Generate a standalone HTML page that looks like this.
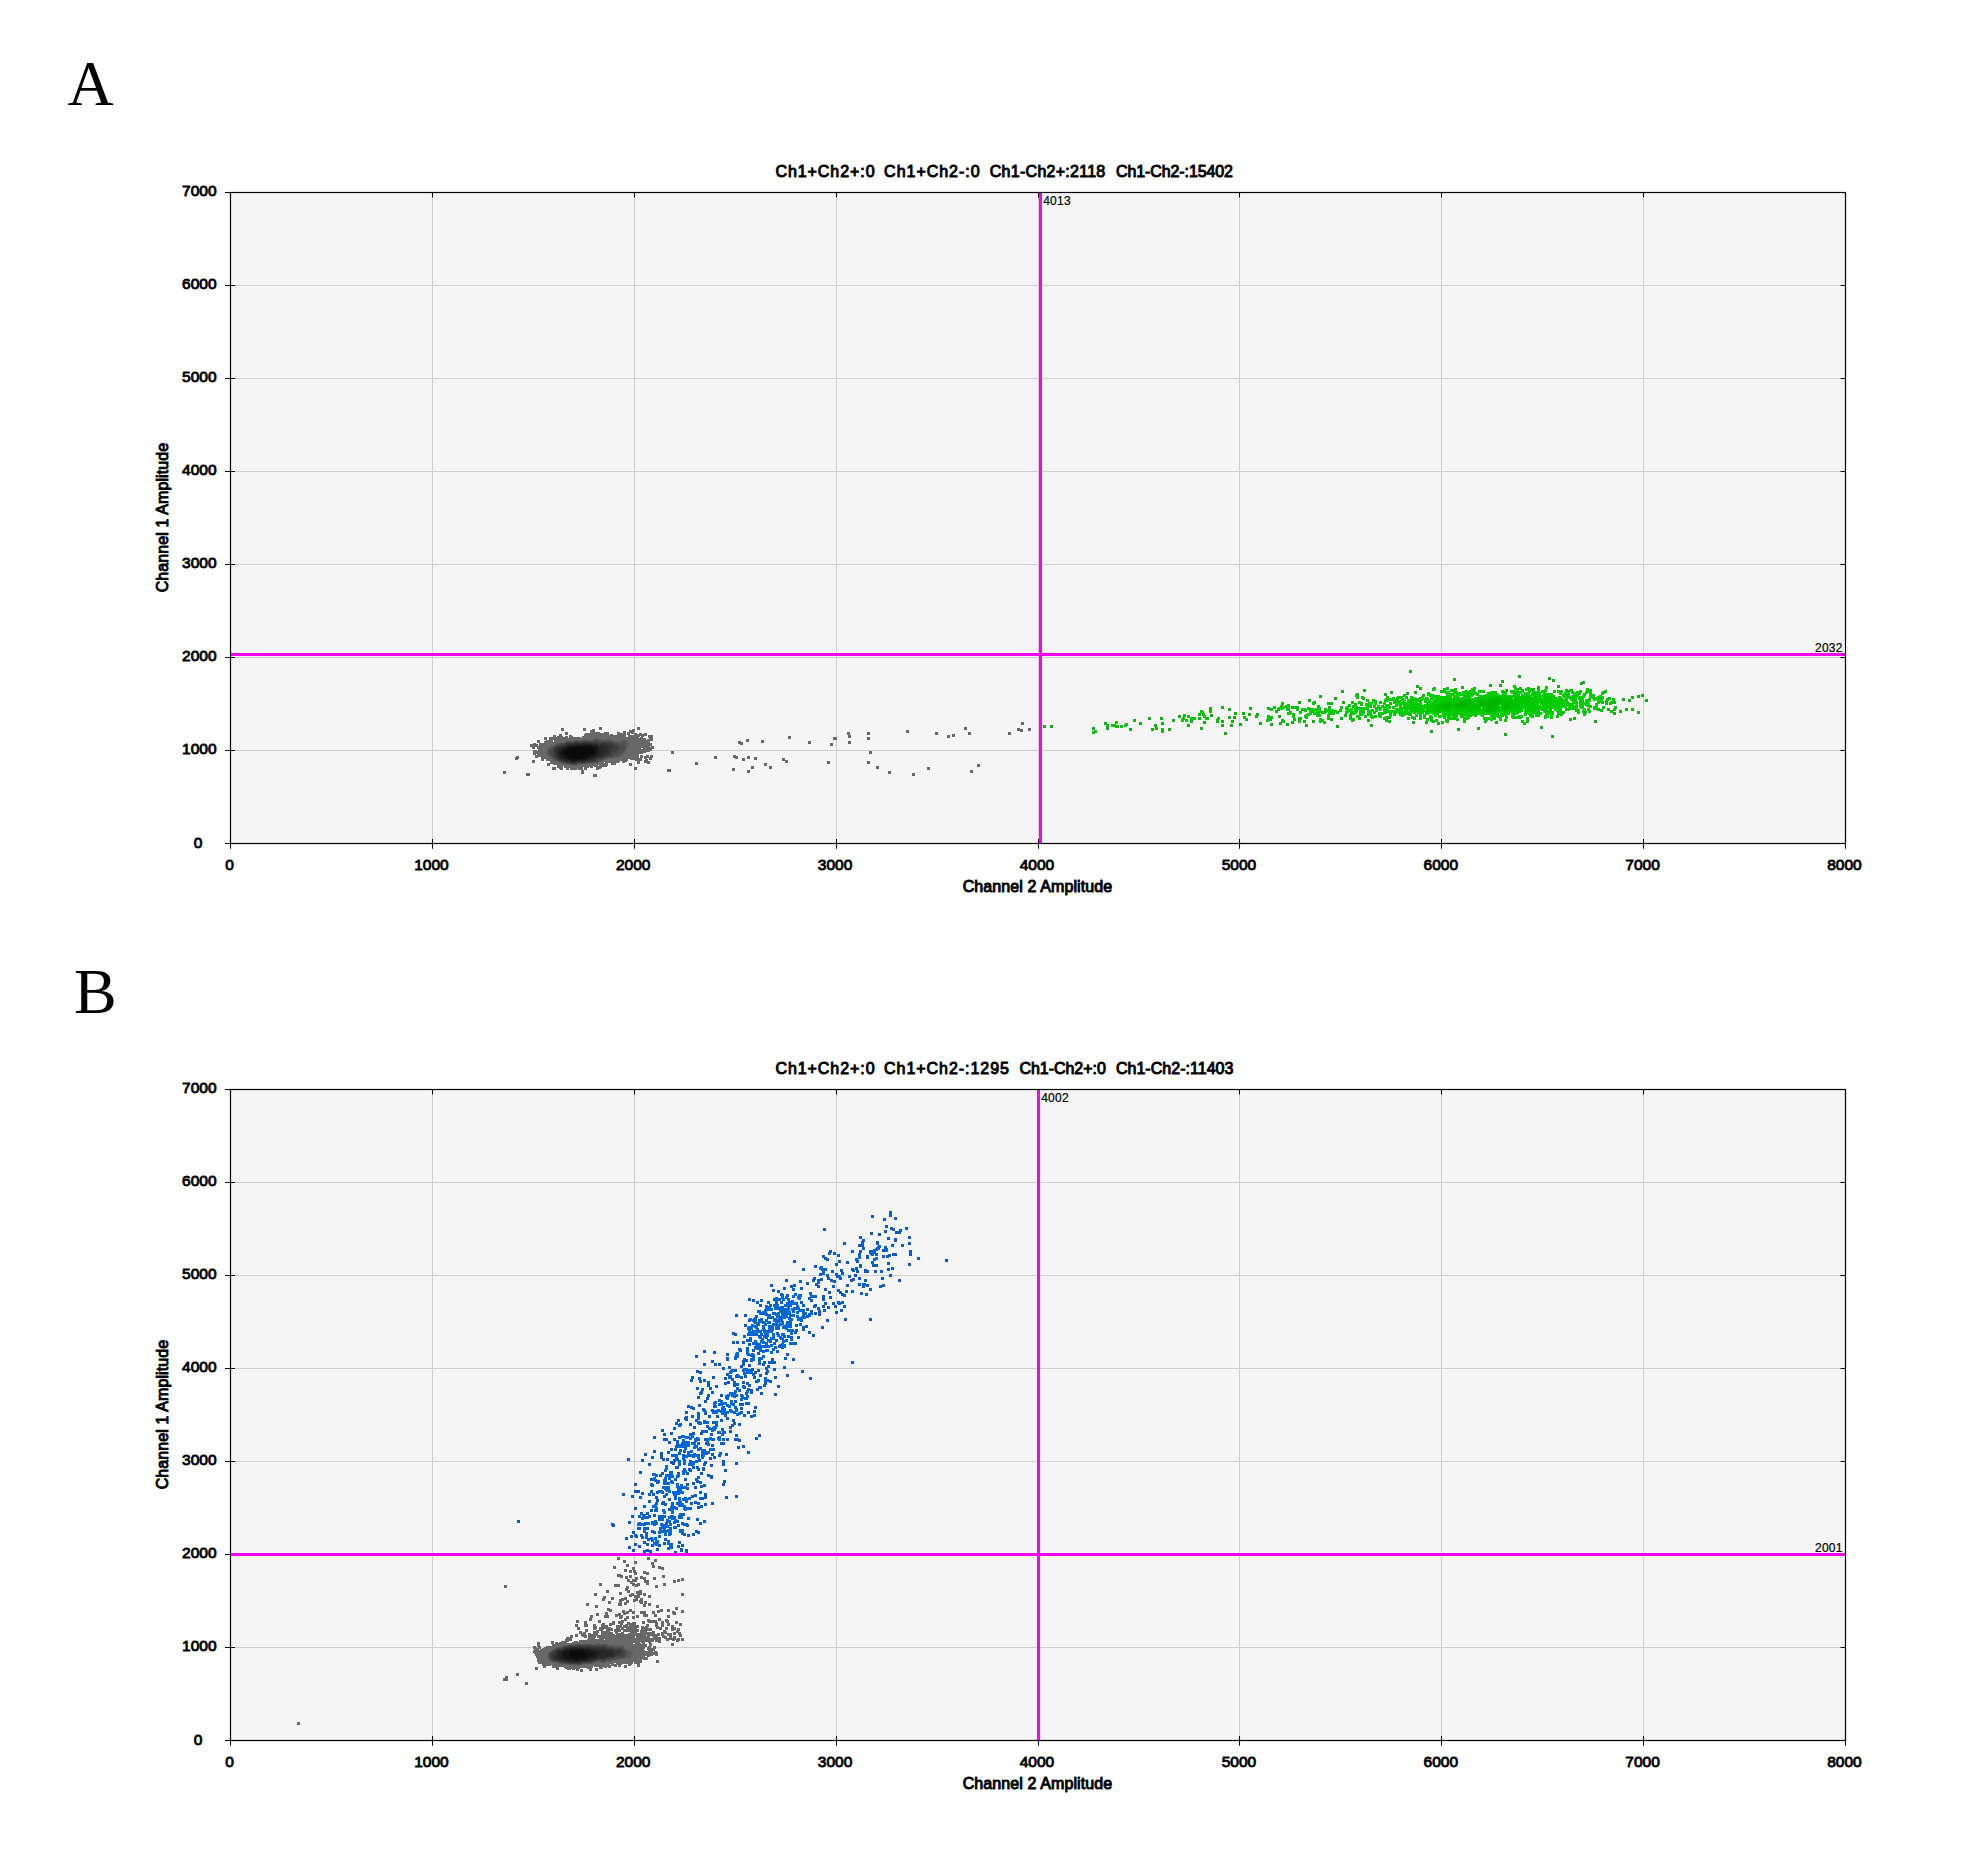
<!DOCTYPE html>
<html lang="en"><head><meta charset="utf-8"><title>Droplet scatter plots</title>
<style>html,body{margin:0;padding:0;background:#fff}body{width:1965px;height:1873px;overflow:hidden}svg{display:block}text{white-space:pre}</style></head><body>
<svg width="1965" height="1873" viewBox="0 0 1965 1873">
<rect width="1965" height="1873" fill="#fff"/>
<text x="67.5" y="105" font-family="'Liberation Serif', 'Times New Roman', serif" font-size="64">A</text>
<text x="74" y="1012.5" font-family="'Liberation Serif', 'Times New Roman', serif" font-size="64">B</text>
<rect x="230.5" y="192.5" width="1615" height="651" fill="#f5f5f5"/>
<path d="M432.5 192.5V843.5M634.5 192.5V843.5M836.5 192.5V843.5M1038.5 192.5V843.5M1239.5 192.5V843.5M1441.5 192.5V843.5M1643.5 192.5V843.5M230.5 750.5H1845.5M230.5 657.5H1845.5M230.5 564.5H1845.5M230.5 471.5H1845.5M230.5 378.5H1845.5M230.5 285.5H1845.5" stroke="#cfcfcf" stroke-width="1" fill="none"/>
<g shape-rendering="crispEdges"><path fill="#686868" d="M1021 722h3v3h-3zM599 727h3v3h-3zM637 727h3v3h-3zM964 727h3v3h-3zM561 728h3v3h-3zM583 728h3v3h-3zM1017 728h3v1h-3zM1028 728h3v3h-3zM592 729h3v1h-3zM632 729h3v1h-3zM1017 729h6v2h-6zM590 730h5v2h-5zM629 730h6v2h-6zM906 730h3v3h-3zM623 731h3v2h-3zM1020 731h3v1h-3zM565 732h3v3h-3zM590 732h10v1h-10zM604 732h5v1h-5zM617 732h3v1h-3zM627 732h7v1h-7zM847 732h3v3h-3zM867 732h3v3h-3zM935 732h3v3h-3zM968 732h3v3h-3zM1008 732h3v3h-3zM585 733h24v1h-24zM617 733h9v2h-9zM627 733h3v2h-3zM631 733h6v1h-6zM639 733h3v1h-3zM644 733h3v1h-3zM559 734h3v2h-3zM584 734h25v1h-25zM610 734h3v1h-3zM634 734h13v1h-13zM952 734h3v3h-3zM553 735h3v2h-3zM569 735h3v1h-3zM584 735h42v1h-42zM628 735h19v1h-19zM648 735h5v3h-5zM848 735h3v3h-3zM947 735h3v3h-3zM557 736h6v1h-6zM565 736h3v1h-3zM569 736h4v1h-4zM582 736h44v1h-44zM628 736h12v1h-12zM641 736h3v1h-3zM788 736h3v3h-3zM544 737h3v3h-3zM549 737h19v1h-19zM569 737h12v1h-12zM582 737h57v1h-57zM640 737h3v1h-3zM833 737h4v3h-4zM867 737h3v3h-3zM549 738h45v1h-45zM597 738h49v1h-49zM649 738h4v1h-4zM549 739h33v1h-33zM586 739h7v1h-7zM603 739h1v1h-1zM611 739h35v1h-35zM647 739h6v1h-6zM746 739h3v3h-3zM537 740h3v3h-3zM546 740h7v1h-7zM554 740h21v1h-21zM615 740h6v1h-6zM627 740h26v1h-26zM761 740h3v3h-3zM544 741h9v1h-9zM554 741h11v1h-11zM617 741h1v1h-1zM628 741h22v2h-22zM738 741h3v1h-3zM808 741h3v3h-3zM848 741h3v3h-3zM544 742h17v1h-17zM738 742h5v2h-5zM533 743h3v1h-3zM539 743h17v1h-17zM629 743h23v3h-23zM830 743h3v3h-3zM530 744h8v2h-8zM539 744h15v1h-15zM740 744h3v1h-3zM539 745h11v1h-11zM530 746h19v1h-19zM629 746h21v1h-21zM651 746h3v1h-3zM532 747h3v2h-3zM537 747h11v2h-11zM629 747h25v1h-25zM628 748h13v1h-13zM643 748h11v1h-11zM538 749h9v2h-9zM627 749h25v2h-25zM533 750h4v1h-4zM533 751h14v3h-14zM626 751h24v1h-24zM671 751h3v3h-3zM869 751h3v3h-3zM626 752h20v1h-20zM624 753h19v1h-19zM533 754h3v1h-3zM537 754h10v1h-10zM623 754h16v1h-16zM535 755h13v1h-13zM622 755h17v1h-17zM640 755h3v3h-3zM646 755h3v1h-3zM650 755h3v2h-3zM733 755h3v1h-3zM516 756h3v1h-3zM535 756h14v1h-14zM621 756h18v1h-18zM644 756h5v1h-5zM714 756h3v3h-3zM733 756h5v2h-5zM747 756h3v3h-3zM515 757h4v2h-4zM535 757h3v1h-3zM541 757h8v1h-8zM619 757h20v1h-20zM644 757h9v1h-9zM754 757h3v3h-3zM541 758h9v1h-9zM613 758h29v1h-29zM644 758h3v1h-3zM649 758h3v2h-3zM735 758h3v1h-3zM742 758h3v3h-3zM782 758h3v2h-3zM515 759h3v1h-3zM541 759h3v2h-3zM546 759h6v1h-6zM607 759h21v1h-21zM630 759h12v1h-12zM645 759h3v1h-3zM532 760h3v3h-3zM546 760h7v1h-7zM604 760h24v1h-24zM635 760h7v1h-7zM644 760h4v1h-4zM782 760h6v1h-6zM550 761h5v1h-5zM602 761h18v1h-18zM622 761h5v1h-5zM637 761h3v3h-3zM644 761h6v2h-6zM785 761h3v2h-3zM827 761h3v3h-3zM867 761h3v3h-3zM550 762h10v1h-10zM598 762h6v1h-6zM605 762h14v1h-14zM622 762h3v1h-3zM695 762h3v3h-3zM547 763h14v1h-14zM594 763h14v1h-14zM611 763h5v2h-5zM629 763h3v3h-3zM647 763h3v1h-3zM764 763h3v3h-3zM547 764h3v2h-3zM553 764h13v1h-13zM583 764h25v1h-25zM977 764h3v3h-3zM557 765h14v1h-14zM577 765h21v1h-21zM599 765h9v1h-9zM557 766h6v2h-6zM564 766h29v1h-29zM594 766h13v1h-13zM751 766h3v3h-3zM769 766h3v3h-3zM876 766h3v3h-3zM552 767h4v3h-4zM564 767h19v1h-19zM584 767h5v1h-5zM590 767h3v1h-3zM596 767h6v1h-6zM634 767h3v3h-3zM927 767h3v3h-3zM559 768h4v1h-4zM566 768h3v2h-3zM570 768h13v1h-13zM584 768h3v2h-3zM596 768h5v1h-5zM732 768h3v3h-3zM560 769h3v1h-3zM570 769h7v1h-7zM578 769h5v1h-5zM596 769h3v1h-3zM667 769h4v3h-4zM581 770h3v4h-3zM747 770h3v3h-3zM970 770h3v3h-3zM503 771h3v3h-3zM888 771h3v3h-3zM526 773h4v3h-4zM912 773h3v3h-3zM593 774h4v3h-4z"/>
<path fill="#616161" d="M594 738h3v1h-3zM582 739h4v1h-4zM600 739h3v1h-3zM604 739h2v1h-2zM610 739h1v1h-1zM579 740h2v1h-2zM614 740h1v1h-1zM621 740h1v1h-1zM625 740h2v1h-2zM565 741h1v1h-1zM615 741h2v1h-2zM618 741h3v1h-3zM627 741h1v1h-1zM561 742h3v1h-3zM556 743h1v1h-1zM628 743h1v3h-1zM554 744h1v1h-1zM550 745h1v1h-1zM549 746h1v1h-1zM627 746h2v2h-2zM548 747h2v1h-2zM627 748h1v1h-1zM547 749h1v1h-1zM626 749h1v2h-1zM625 751h1v1h-1zM624 752h2v1h-2zM623 753h1v1h-1zM547 754h1v1h-1zM622 754h1v1h-1zM621 755h1v1h-1zM620 756h1v1h-1zM549 757h2v1h-2zM614 757h5v1h-5zM550 758h2v1h-2zM608 758h5v1h-5zM552 759h1v1h-1zM606 759h1v1h-1zM553 760h1v1h-1zM555 761h2v1h-2zM601 761h1v1h-1zM561 763h1v1h-1zM592 763h2v1h-2zM566 764h1v1h-1zM582 764h1v1h-1zM571 765h1v1h-1zM576 765h1v1h-1z"/>
<path fill="#5a5a5a" d="M593 739h1v1h-1zM598 739h2v1h-2zM606 739h4v1h-4zM575 740h4v1h-4zM581 740h2v1h-2zM587 740h6v1h-6zM604 740h2v1h-2zM611 740h3v1h-3zM622 740h3v1h-3zM566 741h1v1h-1zM571 741h1v1h-1zM614 741h1v1h-1zM621 741h1v1h-1zM626 741h1v1h-1zM564 742h1v1h-1zM617 742h4v1h-4zM626 742h2v4h-2zM557 743h2v1h-2zM555 744h1v1h-1zM551 745h4v1h-4zM550 746h2v1h-2zM626 746h1v3h-1zM550 747h1v1h-1zM548 748h1v1h-1zM625 749h1v2h-1zM547 750h1v4h-1zM624 751h1v1h-1zM623 752h1v1h-1zM622 753h1v1h-1zM621 754h1v1h-1zM548 755h1v1h-1zM620 755h1v1h-1zM549 756h2v1h-2zM614 756h2v1h-2zM619 756h1v1h-1zM551 757h1v1h-1zM613 757h1v1h-1zM552 758h1v1h-1zM607 758h1v1h-1zM553 759h1v1h-1zM605 759h1v1h-1zM554 760h2v1h-2zM603 760h1v1h-1zM557 761h1v1h-1zM599 761h2v1h-2zM560 762h1v1h-1zM596 762h2v1h-2zM562 763h2v1h-2zM587 763h5v1h-5zM567 764h2v1h-2zM577 764h5v1h-5zM572 765h4v1h-4z"/>
<path fill="#525252" d="M594 739h4v1h-4zM583 740h4v1h-4zM593 740h1v1h-1zM599 740h5v1h-5zM606 740h5v1h-5zM567 741h4v1h-4zM572 741h2v1h-2zM611 741h3v1h-3zM622 741h4v1h-4zM565 742h1v1h-1zM614 742h3v1h-3zM621 742h5v1h-5zM559 743h2v1h-2zM618 743h8v1h-8zM556 744h1v1h-1zM621 744h5v1h-5zM625 745h1v4h-1zM552 746h2v1h-2zM551 747h2v1h-2zM549 748h3v1h-3zM548 749h2v1h-2zM548 750h1v4h-1zM624 750h1v1h-1zM623 751h1v1h-1zM622 752h1v1h-1zM621 753h1v1h-1zM548 754h2v1h-2zM619 754h2v1h-2zM549 755h1v1h-1zM614 755h6v1h-6zM551 756h1v1h-1zM613 756h1v1h-1zM616 756h3v1h-3zM552 757h1v1h-1zM608 757h5v1h-5zM553 758h1v1h-1zM605 758h2v1h-2zM554 759h1v1h-1zM604 759h1v1h-1zM556 760h1v1h-1zM601 760h2v1h-2zM558 761h1v1h-1zM597 761h2v1h-2zM561 762h1v1h-1zM593 762h3v1h-3zM564 763h2v1h-2zM584 763h3v1h-3zM569 764h2v1h-2zM576 764h1v1h-1z"/>
<path fill="#4b4b4b" d="M594 740h5v1h-5zM574 741h9v1h-9zM589 741h5v1h-5zM598 741h13v1h-13zM571 742h2v1h-2zM612 742h2v1h-2zM561 743h4v1h-4zM614 743h4v1h-4zM557 744h3v1h-3zM618 744h3v1h-3zM555 745h2v1h-2zM619 745h6v1h-6zM554 746h1v1h-1zM620 746h5v3h-5zM553 747h1v1h-1zM552 748h1v1h-1zM550 749h2v1h-2zM619 749h6v1h-6zM549 750h2v4h-2zM618 750h6v1h-6zM617 751h6v1h-6zM617 752h5v1h-5zM615 753h6v1h-6zM550 754h1v1h-1zM613 754h6v1h-6zM550 755h2v1h-2zM612 755h2v1h-2zM552 756h1v1h-1zM612 756h1v1h-1zM553 757h1v1h-1zM607 757h1v1h-1zM554 758h1v1h-1zM604 758h1v1h-1zM555 759h1v1h-1zM602 759h2v1h-2zM557 760h1v1h-1zM598 760h3v1h-3zM559 761h1v1h-1zM596 761h1v1h-1zM562 762h1v1h-1zM590 762h3v1h-3zM566 763h1v1h-1zM578 763h6v1h-6zM571 764h5v1h-5z"/>
<path fill="#444444" d="M583 741h6v1h-6zM594 741h4v1h-4zM566 742h5v1h-5zM573 742h2v1h-2zM597 742h5v1h-5zM605 742h7v1h-7zM565 743h1v1h-1zM612 743h2v1h-2zM560 744h2v1h-2zM614 744h4v1h-4zM557 745h2v1h-2zM616 745h3v1h-3zM555 746h2v1h-2zM618 746h2v3h-2zM554 747h1v1h-1zM553 748h1v1h-1zM552 749h1v1h-1zM617 749h2v1h-2zM551 750h2v5h-2zM617 750h1v1h-1zM616 751h1v1h-1zM613 752h4v1h-4zM613 753h2v1h-2zM612 754h1v1h-1zM552 755h1v1h-1zM611 755h1v1h-1zM553 756h1v1h-1zM607 756h5v1h-5zM554 757h1v1h-1zM604 757h3v1h-3zM555 758h1v1h-1zM603 758h1v1h-1zM556 759h1v1h-1zM597 759h5v1h-5zM558 760h1v1h-1zM596 760h2v1h-2zM560 761h1v1h-1zM593 761h3v1h-3zM563 762h2v1h-2zM585 762h5v1h-5zM567 763h4v1h-4zM577 763h1v1h-1z"/>
<path fill="#3d3d3d" d="M575 742h9v1h-9zM590 742h7v1h-7zM602 742h3v1h-3zM566 743h1v1h-1zM571 743h1v1h-1zM598 743h3v1h-3zM607 743h5v1h-5zM562 744h4v1h-4zM610 744h4v1h-4zM559 745h2v1h-2zM612 745h4v1h-4zM557 746h2v1h-2zM613 746h5v3h-5zM555 747h1v1h-1zM554 748h1v1h-1zM553 749h1v7h-1zM612 749h5v1h-5zM611 750h6v1h-6zM611 751h5v1h-5zM611 752h2v2h-2zM610 754h2v1h-2zM607 755h4v1h-4zM554 756h1v1h-1zM605 756h2v1h-2zM555 757h1v1h-1zM603 757h1v1h-1zM556 758h1v1h-1zM598 758h5v1h-5zM557 759h1v1h-1zM596 759h1v1h-1zM559 760h2v1h-2zM595 760h1v1h-1zM561 761h2v1h-2zM587 761h6v1h-6zM565 762h2v1h-2zM578 762h2v1h-2zM583 762h2v1h-2zM571 763h6v1h-6z"/>
<path fill="#353535" d="M584 742h6v1h-6zM567 743h4v1h-4zM572 743h3v1h-3zM593 743h5v1h-5zM601 743h6v1h-6zM566 744h1v1h-1zM598 744h2v1h-2zM605 744h5v1h-5zM561 745h4v1h-4zM608 745h4v1h-4zM559 746h2v1h-2zM610 746h3v3h-3zM556 747h3v1h-3zM555 748h1v1h-1zM554 749h2v1h-2zM610 749h2v1h-2zM554 750h1v3h-1zM609 750h2v3h-2zM554 753h2v3h-2zM608 753h3v1h-3zM607 754h3v1h-3zM605 755h2v1h-2zM555 756h2v1h-2zM603 756h2v1h-2zM556 757h1v1h-1zM599 757h4v1h-4zM557 758h1v1h-1zM596 758h2v1h-2zM558 759h2v1h-2zM595 759h1v1h-1zM561 760h1v1h-1zM591 760h4v1h-4zM563 761h3v1h-3zM585 761h2v1h-2zM567 762h3v1h-3zM577 762h1v1h-1zM580 762h3v1h-3z"/>
<path fill="#2e2e2e" d="M575 743h18v1h-18zM567 744h5v1h-5zM596 744h2v1h-2zM600 744h5v1h-5zM565 745h2v1h-2zM599 745h9v1h-9zM561 746h4v1h-4zM605 746h5v1h-5zM559 747h2v1h-2zM607 747h3v3h-3zM556 748h3v1h-3zM556 749h2v1h-2zM555 750h2v3h-2zM607 750h2v3h-2zM556 753h1v2h-1zM606 753h2v1h-2zM603 754h4v1h-4zM556 755h2v1h-2zM602 755h3v1h-3zM557 756h1v1h-1zM599 756h4v1h-4zM557 757h2v1h-2zM596 757h3v1h-3zM558 758h2v1h-2zM595 758h1v1h-1zM560 759h2v1h-2zM593 759h2v1h-2zM562 760h3v1h-3zM586 760h5v1h-5zM566 761h3v1h-3zM578 761h7v1h-7zM570 762h7v1h-7z"/>
<path fill="#272727" d="M572 744h11v1h-11zM587 744h1v1h-1zM591 744h5v1h-5zM567 745h3v1h-3zM597 745h2v1h-2zM565 746h2v1h-2zM599 746h6v1h-6zM561 747h3v1h-3zM599 747h8v3h-8zM559 748h2v1h-2zM558 749h2v1h-2zM557 750h2v1h-2zM600 750h7v3h-7zM557 751h1v4h-1zM600 753h6v1h-6zM599 754h4v1h-4zM558 755h1v1h-1zM598 755h4v1h-4zM558 756h2v1h-2zM596 756h3v1h-3zM559 757h2v1h-2zM594 757h2v1h-2zM560 758h2v1h-2zM592 758h3v1h-3zM562 759h2v1h-2zM588 759h5v1h-5zM565 760h3v1h-3zM585 760h1v1h-1zM569 761h2v1h-2zM576 761h2v1h-2z"/>
<path fill="#202020" d="M583 744h4v1h-4zM588 744h3v1h-3zM570 745h7v1h-7zM592 745h5v1h-5zM567 746h2v1h-2zM597 746h2v1h-2zM564 747h3v1h-3zM598 747h1v3h-1zM561 748h3v1h-3zM560 749h2v1h-2zM559 750h2v1h-2zM598 750h2v4h-2zM558 751h2v4h-2zM597 754h2v1h-2zM559 755h2v1h-2zM596 755h2v1h-2zM560 756h2v1h-2zM594 756h2v1h-2zM561 757h1v1h-1zM591 757h3v1h-3zM562 758h2v1h-2zM588 758h4v1h-4zM564 759h4v1h-4zM585 759h3v1h-3zM568 760h2v1h-2zM577 760h8v1h-8zM571 761h5v1h-5z"/>
<path fill="#181818" d="M577 745h15v1h-15zM569 746h7v1h-7zM592 746h5v1h-5zM567 747h2v1h-2zM596 747h2v7h-2zM564 748h3v1h-3zM562 749h3v1h-3zM561 750h2v1h-2zM560 751h2v3h-2zM560 754h3v1h-3zM595 754h2v1h-2zM561 755h2v1h-2zM592 755h4v1h-4zM562 756h2v1h-2zM590 756h4v1h-4zM562 757h3v1h-3zM588 757h3v1h-3zM564 758h4v1h-4zM586 758h2v1h-2zM568 759h2v1h-2zM578 759h7v1h-7zM570 760h7v1h-7z"/>
<path fill="#111111" d="M576 746h16v1h-16zM569 747h6v1h-6zM587 747h9v1h-9zM567 748h2v1h-2zM593 748h3v1h-3zM565 749h3v1h-3zM594 749h2v4h-2zM563 750h3v1h-3zM562 751h3v3h-3zM593 753h3v1h-3zM563 754h2v1h-2zM592 754h3v1h-3zM563 755h3v1h-3zM589 755h3v1h-3zM564 756h3v1h-3zM588 756h2v1h-2zM565 757h4v1h-4zM585 757h3v1h-3zM568 758h3v1h-3zM583 758h3v1h-3zM570 759h8v1h-8z"/>
<path fill="#0a0a0a" d="M575 747h12v1h-12zM569 748h24v1h-24zM568 749h26v1h-26zM566 750h28v1h-28zM565 751h29v2h-29zM565 753h28v1h-28zM565 754h27v1h-27zM566 755h23v1h-23zM567 756h21v1h-21zM569 757h16v1h-16zM571 758h12v1h-12z"/>
<path fill="#16ac16" d="M1409 670h3v3h-3zM1518 675h3v3h-3zM1548 677h3v3h-3zM1453 678h3v3h-3zM1552 679h3v3h-3zM1501 680h3v3h-3zM1582 681h3v1h-3zM1580 682h5v2h-5zM1489 684h3v3h-3zM1499 684h3v3h-3zM1580 684h3v1h-3zM1416 685h3v2h-3zM1557 685h3v3h-3zM1461 686h3v3h-3zM1416 687h6v1h-6zM1419 688h3v2h-3zM1363 689h3v3h-3zM1341 690h3v3h-3zM1390 691h3v3h-3zM1414 691h3v3h-3zM1406 692h3v3h-3zM1384 693h3v3h-3zM1641 694h3v3h-3zM1319 695h3v3h-3zM1637 695h3v3h-3zM1631 696h3v3h-3zM1334 697h3v3h-3zM1622 698h3v3h-3zM1308 699h3v3h-3zM1628 699h3v3h-3zM1645 699h3v3h-3zM1298 701h3v3h-3zM1342 701h3v3h-3zM1221 706h3v3h-3zM1209 707h3v3h-3zM1249 707h3v3h-3zM1267 707h3v3h-3zM1228 708h3v3h-3zM1607 708h3v3h-3zM1625 708h3v3h-3zM1631 708h3v3h-3zM1619 710h3v3h-3zM1637 711h3v3h-3zM1234 712h3v3h-3zM1242 712h3v3h-3zM1613 712h3v3h-3zM1248 713h3v3h-3zM1256 713h3v2h-3zM1210 714h3v3h-3zM1178 715h3v3h-3zM1255 715h4v1h-4zM1278 715h3v3h-3zM1228 716h3v3h-3zM1233 716h3v3h-3zM1255 716h3v2h-3zM1148 717h3v3h-3zM1160 717h3v3h-3zM1198 717h3v3h-3zM1340 717h3v3h-3zM1573 717h3v3h-3zM1246 718h2v1h-2zM1330 718h3v3h-3zM1569 718h3v3h-3zM1133 719h3v3h-3zM1172 719h3v3h-3zM1245 719h3v2h-3zM1367 719h3v3h-3zM1221 720h3v3h-3zM1231 720h3v3h-3zM1312 720h3v3h-3zM1594 720h3v3h-3zM1203 721h3v3h-3zM1291 721h3v3h-3zM1412 721h3v3h-3zM1495 721h3v3h-3zM1104 722h3v2h-3zM1139 722h3v3h-3zM1161 722h3v3h-3zM1259 722h3v3h-3zM1279 722h3v3h-3zM1437 722h3v3h-3zM1239 723h3v3h-3zM1270 723h3v3h-3zM1286 723h3v3h-3zM1104 724h2v1h-2zM1154 724h3v3h-3zM1187 724h3v3h-3zM1221 724h3v3h-3zM1230 724h3v3h-3zM1305 724h3v3h-3zM1370 724h3v3h-3zM1043 725h3v3h-3zM1050 725h3v3h-3zM1336 725h3v3h-3zM1540 726h3v3h-3zM1092 727h3v3h-3zM1106 727h3v3h-3zM1200 727h3v3h-3zM1477 727h3v3h-3zM1129 728h3v3h-3zM1151 728h3v3h-3zM1168 728h3v3h-3zM1457 728h3v3h-3zM1430 730h3v3h-3zM1224 732h3v3h-3zM1504 733h3v3h-3zM1551 735h3v3h-3z"/>
<path fill="#08c008" d="M1513 685h3v2h-3zM1537 686h3v3h-3zM1545 686h3v3h-3zM1433 687h3v1h-3zM1446 687h3v3h-3zM1513 687h1v1h-1zM1519 687h3v2h-3zM1527 687h3v1h-3zM1432 688h4v2h-4zM1454 688h3v3h-3zM1528 688h1v2h-1zM1532 688h3v3h-3zM1586 688h3v1h-3zM1505 689h3v2h-3zM1519 689h2v1h-2zM1565 689h3v1h-3zM1572 689h1v2h-1zM1586 689h6v1h-6zM1432 690h3v1h-3zM1440 690h3v3h-3zM1483 690h2v3h-2zM1553 690h3v3h-3zM1557 690h3v1h-3zM1565 690h2v2h-2zM1579 690h3v2h-3zM1589 690h3v1h-3zM1604 690h3v1h-3zM1506 691h2v1h-2zM1557 691h2v2h-2zM1602 691h5v1h-5zM1581 692h1v1h-1zM1601 692h6v1h-6zM1356 693h3v1h-3zM1583 693h2v1h-2zM1601 693h4v1h-4zM1355 694h4v3h-4zM1403 694h3v2h-3zM1422 694h3v2h-3zM1583 694h3v1h-3zM1601 694h3v1h-3zM1585 695h1v1h-1zM1361 696h3v1h-3zM1386 696h3v2h-3zM1397 696h3v1h-3zM1403 696h5v1h-5zM1424 696h1v1h-1zM1356 697h3v2h-3zM1361 697h4v2h-4zM1392 697h3v1h-3zM1399 697h1v2h-1zM1405 697h3v2h-3zM1608 697h3v1h-3zM1388 698h1v1h-1zM1606 698h5v2h-5zM1612 698h3v3h-3zM1362 699h3v1h-3zM1366 699h3v3h-3zM1372 699h3v1h-3zM1372 700h5v2h-5zM1605 700h4v1h-4zM1313 701h3v1h-3zM1351 701h3v2h-3zM1358 701h3v1h-3zM1379 701h3v3h-3zM1603 701h1v2h-1zM1605 701h3v4h-3zM1610 701h6v1h-6zM1281 702h3v3h-3zM1312 702h4v2h-4zM1327 702h6v3h-6zM1358 702h5v2h-5zM1609 702h7v2h-7zM1351 703h6v1h-6zM1601 703h3v1h-3zM1287 704h3v1h-3zM1312 704h3v1h-3zM1348 704h3v2h-3zM1354 704h3v1h-3zM1360 704h3v2h-3zM1609 704h3v1h-3zM1280 705h3v1h-3zM1288 705h2v1h-2zM1317 705h3v2h-3zM1356 705h1v1h-1zM1590 705h2v1h-2zM1273 706h3v2h-3zM1280 706h2v1h-2zM1291 706h8v3h-8zM1328 706h3v2h-3zM1340 706h3v3h-3zM1349 706h2v1h-2zM1589 706h3v2h-3zM1602 706h3v3h-3zM1614 706h3v2h-3zM1278 707h2v1h-2zM1307 707h3v2h-3zM1317 707h1v1h-1zM1270 708h6v1h-6zM1277 708h3v2h-3zM1301 708h5v1h-5zM1324 708h3v2h-3zM1587 708h3v2h-3zM1598 708h2v1h-2zM1613 708h4v1h-4zM1270 709h3v2h-3zM1296 709h3v2h-3zM1301 709h9v1h-9zM1339 709h3v2h-3zM1598 709h5v1h-5zM1613 709h3v1h-3zM1200 710h3v1h-3zM1209 710h3v3h-3zM1275 710h5v1h-5zM1301 710h6v1h-6zM1587 710h4v1h-4zM1597 710h6v1h-6zM1610 710h6v1h-6zM1200 711h4v2h-4zM1275 711h3v2h-3zM1289 711h3v1h-3zM1299 711h3v3h-3zM1304 711h3v1h-3zM1337 711h5v1h-5zM1345 711h1v2h-1zM1562 711h3v2h-3zM1585 711h2v2h-2zM1588 711h3v2h-3zM1600 711h3v1h-3zM1610 711h3v2h-3zM1287 712h5v1h-5zM1337 712h2v1h-2zM1557 712h2v1h-2zM1198 713h7v1h-7zM1287 713h8v1h-8zM1336 713h3v1h-3zM1345 713h3v1h-3zM1557 713h8v1h-8zM1577 713h3v1h-3zM1583 713h4v1h-4zM1183 714h3v3h-3zM1198 714h3v2h-3zM1202 714h3v1h-3zM1287 714h4v1h-4zM1292 714h3v4h-3zM1327 714h1v1h-1zM1344 714h3v3h-3zM1349 714h3v4h-3zM1557 714h6v1h-6zM1583 714h3v2h-3zM1187 715h3v2h-3zM1202 715h4v1h-4zM1267 715h3v1h-3zM1327 715h3v5h-3zM1364 715h3v3h-3zM1370 715h3v1h-3zM1374 715h3v1h-3zM1556 715h3v3h-3zM1560 715h3v1h-3zM1203 716h3v1h-3zM1243 716h3v3h-3zM1267 716h6v3h-6zM1370 716h7v2h-7zM1385 716h4v1h-4zM1411 716h3v1h-3zM1419 716h3v4h-3zM1182 717h3v2h-3zM1187 717h9v1h-9zM1203 717h6v1h-6zM1217 717h3v2h-3zM1298 717h4v3h-4zM1360 717h1v1h-1zM1383 717h8v2h-8zM1407 717h3v3h-3zM1411 717h5v2h-5zM1423 717h3v1h-3zM1526 717h3v5h-3zM1190 718h6v2h-6zM1205 718h4v2h-4zM1293 718h3v3h-3zM1349 718h6v2h-6zM1358 718h3v2h-3zM1371 718h3v1h-3zM1423 718h6v1h-6zM1456 718h3v3h-3zM1499 718h3v3h-3zM1544 718h3v1h-3zM1181 719h7v1h-7zM1216 719h4v1h-4zM1266 719h6v2h-6zM1281 719h3v1h-3zM1322 719h2v2h-2zM1383 719h5v1h-5zM1413 719h3v1h-3zM1426 719h3v2h-3zM1430 719h3v1h-3zM1435 719h3v1h-3zM1445 719h2v1h-2zM1504 719h3v3h-3zM1181 720h3v2h-3zM1185 720h3v2h-3zM1190 720h3v3h-3zM1216 720h3v3h-3zM1281 720h4v2h-4zM1298 720h3v3h-3zM1303 720h3v3h-3zM1351 720h4v1h-4zM1385 720h6v2h-6zM1430 720h8v2h-8zM1445 720h4v2h-4zM1463 720h3v3h-3zM1484 720h1v1h-1zM1521 720h3v2h-3zM1115 721h3v3h-3zM1266 721h3v1h-3zM1322 721h4v1h-4zM1351 721h3v1h-3zM1425 721h3v3h-3zM1441 721h3v3h-3zM1484 721h3v2h-3zM1282 722h3v1h-3zM1319 722h3v1h-3zM1323 722h3v2h-3zM1388 722h3v1h-3zM1432 722h3v1h-3zM1446 722h3v1h-3zM1521 722h8v1h-8zM1125 723h3v1h-3zM1523 723h3v2h-3zM1106 724h3v3h-3zM1111 724h5v1h-5zM1124 724h4v2h-4zM1111 725h8v2h-8zM1120 725h3v3h-3zM1124 726h3v1h-3zM1115 727h4v1h-4zM1155 727h3v3h-3zM1161 728h3v5h-3zM1094 730h3v1h-3zM1092 731h5v2h-5zM1092 733h3v1h-3z"/>
<path fill="#00cb00" d="M1473 687h3v1h-3zM1514 687h3v1h-3zM1443 688h3v3h-3zM1471 688h5v2h-5zM1514 688h5v2h-5zM1525 688h3v2h-3zM1529 688h3v2h-3zM1450 689h4v2h-4zM1521 689h3v2h-3zM1537 689h3v2h-3zM1544 689h3v1h-3zM1569 689h3v1h-3zM1465 690h3v1h-3zM1469 690h6v1h-6zM1478 690h5v3h-5zM1501 690h3v1h-3zM1510 690h5v1h-5zM1516 690h3v1h-3zM1525 690h7v1h-7zM1541 690h6v2h-6zM1560 690h3v1h-3zM1567 690h5v1h-5zM1586 690h3v1h-3zM1443 691h15v1h-15zM1462 691h14v1h-14zM1490 691h7v1h-7zM1501 691h5v1h-5zM1510 691h14v1h-14zM1528 691h3v1h-3zM1532 691h8v1h-8zM1559 691h4v2h-4zM1567 691h7v1h-7zM1576 691h3v1h-3zM1585 691h7v2h-7zM1427 692h3v1h-3zM1443 692h7v1h-7zM1453 692h8v1h-8zM1462 692h15v1h-15zM1487 692h10v1h-10zM1501 692h6v1h-6zM1510 692h21v1h-21zM1532 692h14v1h-14zM1564 692h6v1h-6zM1571 692h10v2h-10zM1427 693h4v1h-4zM1445 693h34v1h-34zM1487 693h11v1h-11zM1502 693h5v2h-5zM1511 693h11v1h-11zM1524 693h6v1h-6zM1531 693h10v2h-10zM1543 693h10v1h-10zM1559 693h3v1h-3zM1563 693h7v1h-7zM1585 693h3v1h-3zM1589 693h3v1h-3zM1427 694h7v1h-7zM1446 694h9v1h-9zM1456 694h23v1h-23zM1485 694h15v1h-15zM1513 694h7v1h-7zM1521 694h9v1h-9zM1542 694h11v1h-11zM1559 694h11v1h-11zM1573 694h8v1h-8zM1589 694h6v3h-6zM1427 695h13v1h-13zM1446 695h28v1h-28zM1476 695h44v1h-44zM1521 695h34v1h-34zM1562 695h8v1h-8zM1571 695h8v1h-8zM1582 695h3v1h-3zM1599 695h3v1h-3zM1400 696h3v2h-3zM1410 696h3v1h-3zM1421 696h3v1h-3zM1429 696h23v1h-23zM1453 696h7v1h-7zM1463 696h10v1h-10zM1478 696h16v1h-16zM1497 696h35v1h-35zM1533 696h22v1h-22zM1558 696h3v1h-3zM1562 696h23v1h-23zM1597 696h7v1h-7zM1396 697h3v2h-3zM1410 697h5v1h-5zM1419 697h5v1h-5zM1425 697h3v1h-3zM1430 697h22v1h-22zM1453 697h6v1h-6zM1460 697h11v1h-11zM1474 697h6v1h-6zM1483 697h9v1h-9zM1501 697h41v1h-41zM1543 697h14v1h-14zM1558 697h4v1h-4zM1563 697h14v1h-14zM1578 697h7v1h-7zM1589 697h15v1h-15zM1385 698h3v1h-3zM1389 698h6v1h-6zM1400 698h4v1h-4zM1410 698h19v1h-19zM1430 698h4v1h-4zM1435 698h45v1h-45zM1485 698h4v1h-4zM1505 698h8v1h-8zM1514 698h1v1h-1zM1518 698h45v1h-45zM1565 698h12v1h-12zM1578 698h6v2h-6zM1588 698h3v1h-3zM1592 698h12v1h-12zM1384 699h15v1h-15zM1401 699h4v1h-4zM1407 699h16v2h-16zM1424 699h5v1h-5zM1430 699h31v1h-31zM1472 699h5v1h-5zM1510 699h4v1h-4zM1519 699h49v2h-49zM1570 699h7v2h-7zM1585 699h6v3h-6zM1593 699h10v1h-10zM1384 700h22v1h-22zM1424 700h7v1h-7zM1433 700h24v1h-24zM1475 700h2v2h-2zM1579 700h5v2h-5zM1593 700h3v1h-3zM1597 700h6v3h-6zM1384 701h5v1h-5zM1393 701h8v1h-8zM1402 701h4v1h-4zM1407 701h15v1h-15zM1424 701h3v1h-3zM1428 701h18v1h-18zM1455 701h1v1h-1zM1519 701h50v1h-50zM1572 701h6v2h-6zM1368 702h5v1h-5zM1374 702h3v3h-3zM1383 702h3v2h-3zM1389 702h3v2h-3zM1393 702h25v1h-25zM1419 702h3v1h-3zM1424 702h19v1h-19zM1476 702h1v2h-1zM1519 702h51v1h-51zM1579 702h10v1h-10zM1365 703h8v2h-8zM1393 703h29v1h-29zM1426 703h14v1h-14zM1519 703h20v2h-20zM1540 703h38v1h-38zM1579 703h11v2h-11zM1595 703h5v1h-5zM1383 704h9v1h-9zM1395 704h27v1h-27zM1424 704h12v1h-12zM1501 704h1v2h-1zM1540 704h34v1h-34zM1575 704h3v1h-3zM1595 704h3v2h-3zM1285 705h3v1h-3zM1352 705h4v1h-4zM1365 705h7v1h-7zM1373 705h3v2h-3zM1377 705h3v2h-3zM1381 705h3v1h-3zM1385 705h5v1h-5zM1395 705h3v1h-3zM1399 705h3v2h-3zM1403 705h32v2h-32zM1519 705h22v1h-22zM1542 705h36v1h-36zM1579 705h5v3h-5zM1585 705h5v1h-5zM1282 706h8v1h-8zM1346 706h3v1h-3zM1352 706h6v1h-6zM1366 706h6v1h-6zM1381 706h10v1h-10zM1392 706h6v1h-6zM1453 706h2v1h-2zM1498 706h4v2h-4zM1519 706h59v1h-59zM1586 706h3v1h-3zM1593 706h5v4h-5zM1280 707h10v1h-10zM1318 707h3v1h-3zM1345 707h4v2h-4zM1352 707h20v1h-20zM1373 707h18v1h-18zM1392 707h3v1h-3zM1399 707h36v1h-36zM1451 707h4v1h-4zM1480 707h1v1h-1zM1519 707h48v1h-48zM1568 707h10v1h-10zM1280 708h5v1h-5zM1286 708h4v3h-4zM1310 708h4v1h-4zM1315 708h6v1h-6zM1328 708h3v1h-3zM1350 708h3v1h-3zM1354 708h15v2h-15zM1375 708h7v2h-7zM1383 708h8v1h-8zM1392 708h45v1h-45zM1451 708h6v2h-6zM1479 708h6v1h-6zM1497 708h6v1h-6zM1510 708h3v1h-3zM1518 708h44v1h-44zM1565 708h13v1h-13zM1580 708h6v1h-6zM1280 709h3v1h-3zM1310 709h11v1h-11zM1327 709h7v1h-7zM1345 709h8v1h-8zM1371 709h3v1h-3zM1383 709h6v1h-6zM1395 709h30v1h-30zM1426 709h11v1h-11zM1461 709h5v1h-5zM1478 709h7v1h-7zM1497 709h7v1h-7zM1510 709h13v1h-13zM1524 709h24v1h-24zM1549 709h3v1h-3zM1554 709h8v2h-8zM1565 709h15v1h-15zM1583 709h3v1h-3zM1309 710h12v1h-12zM1324 710h13v1h-13zM1346 710h7v1h-7zM1354 710h4v1h-4zM1359 710h6v4h-6zM1367 710h7v1h-7zM1375 710h3v1h-3zM1379 710h3v1h-3zM1383 710h20v1h-20zM1404 710h4v1h-4zM1409 710h28v1h-28zM1440 710h4v1h-4zM1448 710h21v1h-21zM1472 710h13v1h-13zM1497 710h26v1h-26zM1524 710h16v2h-16zM1541 710h11v1h-11zM1565 710h5v1h-5zM1575 710h5v2h-5zM1582 710h4v1h-4zM1309 711h6v1h-6zM1316 711h21v1h-21zM1346 711h12v1h-12zM1367 711h11v1h-11zM1383 711h102v1h-102zM1495 711h28v1h-28zM1543 711h11v2h-11zM1556 711h6v1h-6zM1582 711h3v2h-3zM1309 712h18v1h-18zM1328 712h9v1h-9zM1346 712h3v1h-3zM1350 712h7v2h-7zM1367 712h5v3h-5zM1373 712h3v2h-3zM1378 712h46v1h-46zM1425 712h62v1h-62zM1494 712h27v1h-27zM1524 712h18v2h-18zM1559 712h3v1h-3zM1577 712h3v1h-3zM1307 713h5v1h-5zM1313 713h7v1h-7zM1321 713h5v1h-5zM1328 713h7v2h-7zM1378 713h9v1h-9zM1389 713h3v4h-3zM1393 713h4v1h-4zM1398 713h14v1h-14zM1413 713h3v1h-3zM1417 713h7v1h-7zM1425 713h14v1h-14zM1442 713h57v2h-57zM1500 713h10v2h-10zM1511 713h8v1h-8zM1545 713h9v2h-9zM1305 714h7v1h-7zM1313 714h8v1h-8zM1352 714h3v1h-3zM1359 714h5v1h-5zM1378 714h6v1h-6zM1393 714h3v2h-3zM1399 714h13v1h-13zM1415 714h3v3h-3zM1419 714h3v2h-3zM1423 714h6v1h-6zM1432 714h7v1h-7zM1511 714h7v1h-7zM1524 714h3v2h-3zM1528 714h6v1h-6zM1535 714h7v1h-7zM1304 715h6v1h-6zM1316 715h5v2h-5zM1356 715h7v1h-7zM1367 715h3v1h-3zM1378 715h4v2h-4zM1399 715h6v1h-6zM1408 715h4v1h-4zM1423 715h3v2h-3zM1429 715h3v1h-3zM1434 715h3v2h-3zM1438 715h20v1h-20zM1460 715h17v1h-17zM1480 715h4v1h-4zM1490 715h17v1h-17zM1511 715h4v1h-4zM1518 715h5v1h-5zM1529 715h5v2h-5zM1535 715h5v2h-5zM1544 715h5v3h-5zM1550 715h3v4h-3zM1304 716h4v2h-4zM1356 716h4v2h-4zM1401 716h3v1h-3zM1429 716h4v3h-4zM1438 716h13v1h-13zM1452 716h6v1h-6zM1460 716h5v1h-5zM1466 716h6v1h-6zM1474 716h3v1h-3zM1481 716h3v1h-3zM1490 716h14v1h-14zM1505 716h3v3h-3zM1511 716h12v2h-12zM1379 717h3v1h-3zM1438 717h4v1h-4zM1443 717h3v2h-3zM1447 717h10v1h-10zM1460 717h10v1h-10zM1483 717h7v1h-7zM1491 717h5v1h-5zM1497 717h5v1h-5zM1531 717h3v1h-3zM1305 718h3v1h-3zM1319 718h3v4h-3zM1447 718h9v2h-9zM1463 718h7v1h-7zM1483 718h13v2h-13zM1512 718h10v1h-10zM1463 719h5v1h-5zM1485 720h3v1h-3zM1490 720h3v1h-3z"/>
<path fill="#00c100" d="M1494 696h3v1h-3zM1480 697h3v1h-3zM1492 697h9v1h-9zM1480 698h5v1h-5zM1489 698h4v1h-4zM1498 698h7v1h-7zM1515 698h3v1h-3zM1461 699h11v1h-11zM1477 699h3v1h-3zM1484 699h5v1h-5zM1499 699h11v1h-11zM1514 699h5v1h-5zM1457 700h5v1h-5zM1469 700h6v2h-6zM1477 700h1v3h-1zM1486 700h2v1h-2zM1499 700h20v2h-20zM1446 701h9v1h-9zM1456 701h5v1h-5zM1487 701h1v2h-1zM1443 702h15v1h-15zM1469 702h7v2h-7zM1499 702h7v2h-7zM1509 702h10v6h-10zM1440 703h5v1h-5zM1450 703h7v3h-7zM1477 703h2v1h-2zM1436 704h8v1h-8zM1469 704h10v1h-10zM1486 704h1v1h-1zM1499 704h2v1h-2zM1502 704h4v1h-4zM1435 705h7v3h-7zM1468 705h11v1h-11zM1485 705h2v1h-2zM1498 705h2v1h-2zM1502 705h2v3h-2zM1450 706h3v1h-3zM1455 706h2v1h-2zM1465 706h23v1h-23zM1450 707h1v2h-1zM1455 707h3v1h-3zM1462 707h18v1h-18zM1482 707h5v1h-5zM1497 707h1v1h-1zM1437 708h7v1h-7zM1457 708h22v1h-22zM1485 708h2v3h-2zM1503 708h1v1h-1zM1508 708h2v1h-2zM1513 708h5v1h-5zM1437 709h14v1h-14zM1457 709h4v1h-4zM1466 709h12v1h-12zM1496 709h1v1h-1zM1504 709h6v1h-6zM1437 710h3v1h-3zM1444 710h4v1h-4zM1469 710h3v1h-3zM1493 710h4v1h-4zM1485 711h4v1h-4zM1492 711h3v1h-3zM1487 712h7v1h-7z"/>
<path fill="#00b400" d="M1493 698h5v1h-5zM1480 699h4v1h-4zM1489 699h10v1h-10zM1462 700h7v1h-7zM1478 700h8v1h-8zM1488 700h11v3h-11zM1461 701h8v1h-8zM1478 701h9v2h-9zM1458 702h11v1h-11zM1506 702h3v3h-3zM1445 703h5v1h-5zM1457 703h12v2h-12zM1479 703h20v1h-20zM1444 704h6v1h-6zM1479 704h7v1h-7zM1487 704h12v1h-12zM1442 705h8v3h-8zM1457 705h11v1h-11zM1479 705h6v1h-6zM1487 705h11v1h-11zM1504 705h5v3h-5zM1457 706h8v1h-8zM1488 706h10v1h-10zM1458 707h4v1h-4zM1487 707h10v2h-10zM1444 708h6v1h-6zM1504 708h4v1h-4zM1487 709h9v1h-9zM1487 710h6v1h-6zM1489 711h3v1h-3z"/></g>
<path d="M230.5 839V848.8M230.5 192.5V197.5M432.5 839V848.8M432.5 192.5V197.5M634.5 839V848.8M634.5 192.5V197.5M836.5 839V848.8M836.5 192.5V197.5M1038.5 839V848.8M1038.5 192.5V197.5M1239.5 839V848.8M1239.5 192.5V197.5M1441.5 839V848.8M1441.5 192.5V197.5M1643.5 839V848.8M1643.5 192.5V197.5M1845.5 839V848.8M1845.5 192.5V197.5M225 843.5H235M1840.5 843.5H1845.5M225 750.5H235M1840.5 750.5H1845.5M225 657.5H235M1840.5 657.5H1845.5M225 564.5H235M1840.5 564.5H1845.5M225 471.5H235M1840.5 471.5H1845.5M225 378.5H235M1840.5 378.5H1845.5M225 285.5H235M1840.5 285.5H1845.5M225 192.5H235M1840.5 192.5H1845.5" stroke="#000" stroke-width="1.05" fill="none"/>
<path d="M1040.5 192.5V843.5 M230.5 654.5H1845.5" stroke="#fa00f2" stroke-width="3" fill="none"/>
<rect x="230.5" y="192.5" width="1615" height="651" fill="none" stroke="#000" stroke-width="1.2"/>
<g font-family="'Liberation Sans', Arial, sans-serif" font-size="15.5" fill="#000" stroke="#000" stroke-width="0.85" stroke-linejoin="round">
<text x="229.5" y="869.8" text-anchor="middle">0</text>
<text x="431.4" y="869.8" text-anchor="middle">1000</text>
<text x="633.2" y="869.8" text-anchor="middle">2000</text>
<text x="835.1" y="869.8" text-anchor="middle">3000</text>
<text x="1037" y="869.8" text-anchor="middle">4000</text>
<text x="1238.9" y="869.8" text-anchor="middle">5000</text>
<text x="1440.8" y="869.8" text-anchor="middle">6000</text>
<text x="1642.6" y="869.8" text-anchor="middle">7000</text>
<text x="1844.5" y="869.8" text-anchor="middle">8000</text>
<text x="198" y="847.5" text-anchor="middle">0</text>
<text x="216.6" y="754.1" text-anchor="end">1000</text>
<text x="216.6" y="661.1" text-anchor="end">2000</text>
<text x="216.6" y="568.1" text-anchor="end">3000</text>
<text x="216.6" y="475.1" text-anchor="end">4000</text>
<text x="216.6" y="382.1" text-anchor="end">5000</text>
<text x="216.6" y="289.1" text-anchor="end">6000</text>
<text x="216.6" y="196.1" text-anchor="end">7000</text>
</g>
<text x="1037.5" y="891.7" text-anchor="middle" font-family="'Liberation Sans', Arial, sans-serif" font-size="16" stroke="#000" stroke-width="0.95" stroke-linejoin="round" letter-spacing="0.1">Channel 2 Amplitude</text>
<text transform="translate(168.3 517.5) rotate(-90)" text-anchor="middle" font-family="'Liberation Sans', Arial, sans-serif" font-size="16" stroke="#000" stroke-width="0.95" stroke-linejoin="round" letter-spacing="0.1">Channel 1 Amplitude</text>
<g font-family="'Liberation Sans', Arial, sans-serif" font-size="16" fill="#000" stroke="#000" stroke-width="0.95" stroke-linejoin="round">
<text x="775.4" y="176.8" letter-spacing="0.94">Ch1+Ch2+:0</text>
<text x="884.1" y="176.8" letter-spacing="0.98">Ch1+Ch2-:0</text>
<text x="989.8" y="176.8" letter-spacing="0.27">Ch1-Ch2+:2118</text>
<text x="1116.1" y="176.8" letter-spacing="-0.11">Ch1-Ch2-:15402</text>
</g>
<text x="1043.2" y="205.1" font-family="'Liberation Sans', Arial, sans-serif" font-size="12" letter-spacing="0.25" stroke="#000" stroke-width="0.2">4013</text>
<text x="1842.7" y="652.3" text-anchor="end" font-family="'Liberation Sans', Arial, sans-serif" font-size="12" letter-spacing="0.25" stroke="#000" stroke-width="0.2">2032</text>
<rect x="230.5" y="1089.5" width="1615" height="651" fill="#f5f5f5"/>
<path d="M432.5 1089.5V1740.5M634.5 1089.5V1740.5M836.5 1089.5V1740.5M1038.5 1089.5V1740.5M1239.5 1089.5V1740.5M1441.5 1089.5V1740.5M1643.5 1089.5V1740.5M230.5 1647.5H1845.5M230.5 1554.5H1845.5M230.5 1461.5H1845.5M230.5 1368.5H1845.5M230.5 1275.5H1845.5M230.5 1182.5H1845.5" stroke="#cfcfcf" stroke-width="1" fill="none"/>
<g shape-rendering="crispEdges"><path fill="#686868" d="M617 1557h3v3h-3zM647 1557h3v3h-3zM654 1559h3v3h-3zM623 1560h3v3h-3zM634 1561h3v3h-3zM651 1562h3v3h-3zM626 1564h3v3h-3zM652 1565h3v3h-3zM613 1566h3v3h-3zM658 1566h3v1h-3zM632 1567h3v3h-3zM658 1567h6v2h-6zM624 1569h3v3h-3zM661 1569h3v1h-3zM629 1570h3v3h-3zM633 1570h3v2h-3zM643 1571h3v1h-3zM633 1572h4v1h-4zM643 1572h6v2h-6zM634 1573h3v2h-3zM617 1574h4v1h-4zM646 1574h3v1h-3zM617 1575h6v2h-6zM629 1575h3v3h-3zM662 1575h3v3h-3zM625 1576h3v3h-3zM640 1576h3v1h-3zM620 1577h3v1h-3zM635 1577h3v2h-3zM640 1577h6v2h-6zM653 1577h3v3h-3zM681 1578h3v3h-3zM627 1579h3v2h-3zM632 1579h6v1h-6zM643 1579h3v1h-3zM677 1579h3v3h-3zM632 1580h5v1h-5zM644 1580h5v3h-5zM673 1580h3v3h-3zM627 1581h10v1h-10zM630 1582h3v1h-3zM599 1583h3v3h-3zM630 1583h5v1h-5zM637 1583h3v1h-3zM646 1583h3v2h-3zM663 1583h3v3h-3zM614 1584h6v3h-6zM632 1584h8v2h-8zM504 1585h3v3h-3zM655 1585h3v3h-3zM626 1586h3v2h-3zM635 1586h3v1h-3zM625 1588h4v1h-4zM625 1589h3v1h-3zM606 1590h3v3h-3zM625 1590h5v1h-5zM639 1590h3v1h-3zM627 1591h3v2h-3zM636 1591h6v3h-6zM619 1592h3v3h-3zM594 1593h3v3h-3zM631 1593h3v1h-3zM643 1593h3v3h-3zM681 1593h3v3h-3zM629 1594h5v1h-5zM637 1594h5v1h-5zM629 1595h11v1h-11zM648 1595h3v3h-3zM603 1596h3v2h-3zM629 1596h3v1h-3zM634 1596h6v2h-6zM611 1597h3v3h-3zM624 1597h3v1h-3zM602 1598h4v1h-4zM621 1598h6v1h-6zM635 1598h3v1h-3zM640 1598h3v2h-3zM602 1599h3v2h-3zM619 1599h8v1h-8zM633 1599h5v2h-5zM619 1600h5v1h-5zM626 1600h3v2h-3zM639 1600h4v3h-4zM608 1601h3v3h-3zM619 1601h3v2h-3zM633 1601h3v1h-3zM644 1601h3v3h-3zM624 1602h5v1h-5zM586 1603h3v3h-3zM618 1603h4v3h-4zM624 1603h3v2h-3zM640 1603h3v1h-3zM648 1603h3v3h-3zM643 1604h3v3h-3zM595 1605h3v3h-3zM656 1605h3v3h-3zM675 1607h3v3h-3zM607 1608h3v1h-3zM607 1609h5v2h-5zM629 1609h3v2h-3zM660 1609h3v1h-3zM667 1609h3v3h-3zM622 1610h3v2h-3zM657 1610h6v2h-6zM681 1610h3v3h-3zM609 1611h3v1h-3zM626 1611h9v1h-9zM640 1611h6v3h-6zM652 1611h3v3h-3zM672 1611h3v1h-3zM605 1612h3v3h-3zM622 1612h7v1h-7zM632 1612h3v2h-3zM657 1612h3v1h-3zM672 1612h4v2h-4zM596 1613h3v3h-3zM618 1613h3v1h-3zM623 1613h6v1h-6zM615 1614h6v1h-6zM623 1614h3v1h-3zM643 1614h5v3h-5zM654 1614h3v3h-3zM673 1614h3v1h-3zM590 1615h3v3h-3zM604 1615h5v3h-5zM615 1615h8v1h-8zM636 1615h3v3h-3zM667 1615h3v3h-3zM615 1616h3v1h-3zM619 1616h4v2h-4zM626 1616h3v2h-3zM632 1616h3v3h-3zM589 1618h3v3h-3zM619 1618h3v1h-3zM624 1618h5v1h-5zM658 1618h3v3h-3zM624 1619h3v1h-3zM647 1619h3v1h-3zM665 1619h3v1h-3zM576 1620h3v3h-3zM598 1620h3v3h-3zM621 1620h6v1h-6zM647 1620h10v2h-10zM665 1620h4v2h-4zM584 1621h3v3h-3zM612 1621h3v2h-3zM618 1621h6v2h-6zM642 1621h3v3h-3zM661 1621h3v6h-3zM675 1621h3v3h-3zM627 1622h3v1h-3zM632 1622h4v1h-4zM648 1622h10v1h-10zM666 1622h3v1h-3zM602 1623h3v1h-3zM609 1623h6v2h-6zM618 1623h5v1h-5zM627 1623h9v1h-9zM655 1623h3v3h-3zM667 1623h3v3h-3zM679 1623h3v3h-3zM575 1624h3v3h-3zM584 1624h4v3h-4zM593 1624h3v2h-3zM601 1624h4v1h-4zM620 1624h3v1h-3zM625 1624h11v1h-11zM646 1624h3v2h-3zM601 1625h7v2h-7zM609 1625h3v1h-3zM616 1625h6v2h-6zM623 1625h5v1h-5zM629 1625h10v1h-10zM671 1625h3v2h-3zM593 1626h4v3h-4zM623 1626h16v1h-16zM641 1626h3v1h-3zM645 1626h4v1h-4zM655 1626h4v1h-4zM577 1627h3v3h-3zM599 1627h12v1h-12zM616 1627h23v1h-23zM641 1627h7v1h-7zM656 1627h6v2h-6zM665 1627h3v3h-3zM671 1627h5v3h-5zM599 1628h14v1h-14zM616 1628h4v1h-4zM621 1628h3v1h-3zM626 1628h11v1h-11zM641 1628h11v2h-11zM677 1628h3v2h-3zM585 1629h3v3h-3zM593 1629h3v1h-3zM599 1629h5v1h-5zM606 1629h7v2h-7zM614 1629h25v1h-25zM659 1629h3v1h-3zM596 1630h7v1h-7zM614 1630h7v2h-7zM623 1630h16v2h-16zM640 1630h12v1h-12zM663 1630h3v1h-3zM671 1630h3v1h-3zM676 1630h4v1h-4zM579 1631h3v2h-3zM593 1631h6v2h-6zM601 1631h9v1h-9zM640 1631h7v1h-7zM652 1631h3v1h-3zM663 1631h4v1h-4zM676 1631h3v1h-3zM583 1632h3v1h-3zM601 1632h12v2h-12zM615 1632h3v1h-3zM621 1632h3v1h-3zM630 1632h7v1h-7zM640 1632h15v1h-15zM661 1632h6v1h-6zM673 1632h8v1h-8zM579 1633h7v1h-7zM588 1633h3v1h-3zM593 1633h5v1h-5zM615 1633h9v1h-9zM628 1633h27v1h-27zM657 1633h3v1h-3zM661 1633h11v1h-11zM673 1633h3v2h-3zM678 1633h3v1h-3zM575 1634h3v3h-3zM581 1634h5v1h-5zM588 1634h10v1h-10zM601 1634h14v1h-14zM616 1634h44v1h-44zM661 1634h3v1h-3zM667 1634h5v2h-5zM678 1634h4v1h-4zM570 1635h3v2h-3zM581 1635h6v1h-6zM588 1635h58v1h-58zM647 1635h13v1h-13zM661 1635h4v1h-4zM679 1635h3v2h-3zM582 1636h5v1h-5zM588 1636h8v2h-8zM597 1636h38v2h-38zM636 1636h14v2h-14zM652 1636h6v1h-6zM662 1636h5v2h-5zM669 1636h3v2h-3zM673 1636h3v2h-3zM566 1637h7v1h-7zM584 1637h3v1h-3zM653 1637h8v1h-8zM566 1638h6v1h-6zM588 1638h7v1h-7zM599 1638h62v1h-62zM664 1638h12v1h-12zM677 1638h3v1h-3zM681 1638h3v3h-3zM565 1639h7v2h-7zM587 1639h17v1h-17zM605 1639h56v1h-56zM666 1639h14v1h-14zM579 1640h75v2h-75zM655 1640h6v2h-6zM666 1640h3v1h-3zM672 1640h3v1h-3zM676 1640h4v1h-4zM551 1641h3v3h-3zM561 1641h8v1h-8zM574 1641h4v1h-4zM676 1641h3v1h-3zM537 1642h3v4h-3zM555 1642h3v1h-3zM559 1642h8v1h-8zM572 1642h68v1h-68zM641 1642h4v1h-4zM648 1642h3v1h-3zM658 1642h3v1h-3zM555 1643h41v1h-41zM600 1643h3v1h-3zM607 1643h26v1h-26zM635 1643h6v1h-6zM642 1643h3v1h-3zM649 1643h3v3h-3zM671 1643h3v3h-3zM552 1644h18v1h-18zM609 1644h8v1h-8zM620 1644h27v1h-27zM552 1645h11v1h-11zM624 1645h23v1h-23zM533 1646h3v1h-3zM537 1646h4v1h-4zM546 1646h15v1h-15zM625 1646h22v1h-22zM648 1646h3v1h-3zM653 1646h3v2h-3zM533 1647h4v1h-4zM538 1647h3v1h-3zM544 1647h12v1h-12zM625 1647h20v1h-20zM647 1647h4v1h-4zM533 1648h8v1h-8zM542 1648h12v1h-12zM626 1648h19v1h-19zM647 1648h9v1h-9zM534 1649h5v1h-5zM540 1649h12v1h-12zM629 1649h15v1h-15zM647 1649h8v1h-8zM533 1650h17v2h-17zM630 1650h15v1h-15zM648 1650h7v1h-7zM633 1651h20v1h-20zM654 1651h3v1h-3zM533 1652h15v1h-15zM633 1652h25v3h-25zM534 1653h14v1h-14zM535 1654h12v2h-12zM633 1655h20v1h-20zM655 1655h3v1h-3zM536 1656h11v2h-11zM632 1656h13v1h-13zM647 1656h3v1h-3zM631 1657h17v1h-17zM537 1658h10v1h-10zM626 1658h1v1h-1zM630 1658h18v1h-18zM537 1659h11v1h-11zM620 1659h22v1h-22zM643 1659h5v1h-5zM537 1660h12v1h-12zM615 1660h27v1h-27zM656 1660h3v3h-3zM537 1661h13v1h-13zM612 1661h30v1h-30zM538 1662h14v1h-14zM597 1662h3v1h-3zM607 1662h26v1h-26zM634 1662h8v1h-8zM538 1663h20v1h-20zM594 1663h20v1h-20zM616 1663h17v1h-17zM634 1663h6v1h-6zM542 1664h18v1h-18zM563 1664h1v1h-1zM587 1664h23v1h-23zM611 1664h11v1h-11zM628 1664h4v1h-4zM637 1664h3v3h-3zM542 1665h9v1h-9zM552 1665h25v1h-25zM580 1665h37v1h-37zM618 1665h3v2h-3zM624 1665h3v3h-3zM628 1665h3v1h-3zM543 1666h3v2h-3zM552 1666h41v1h-41zM594 1666h17v1h-17zM614 1666h3v1h-3zM535 1667h3v3h-3zM552 1667h7v1h-7zM564 1667h29v1h-29zM599 1667h4v2h-4zM604 1667h3v1h-3zM608 1667h3v1h-3zM556 1668h3v2h-3zM565 1668h15v1h-15zM587 1668h5v1h-5zM595 1668h3v3h-3zM567 1669h4v1h-4zM572 1669h3v1h-3zM576 1669h3v2h-3zM580 1669h3v3h-3zM589 1669h3v2h-3zM516 1673h3v3h-3zM505 1676h3v2h-3zM503 1678h5v3h-5zM525 1682h3v3h-3zM297 1722h3v3h-3z"/>
<path fill="#616161" d="M596 1643h4v1h-4zM603 1643h4v1h-4zM570 1644h4v1h-4zM592 1644h1v1h-1zM608 1644h1v1h-1zM617 1644h3v1h-3zM563 1645h1v1h-1zM609 1645h1v1h-1zM614 1645h10v1h-10zM561 1646h1v1h-1zM624 1646h1v1h-1zM556 1647h1v1h-1zM554 1648h1v1h-1zM625 1648h1v1h-1zM552 1649h1v1h-1zM626 1649h3v1h-3zM550 1650h1v2h-1zM629 1650h1v1h-1zM630 1651h3v1h-3zM548 1652h1v1h-1zM632 1652h1v3h-1zM547 1654h1v5h-1zM631 1655h2v1h-2zM631 1656h1v1h-1zM626 1657h1v1h-1zM630 1657h1v1h-1zM625 1658h1v1h-1zM627 1658h3v1h-3zM548 1659h1v1h-1zM619 1659h1v1h-1zM549 1660h1v1h-1zM613 1660h2v1h-2zM550 1661h1v1h-1zM610 1661h2v1h-2zM552 1662h4v1h-4zM595 1662h2v1h-2zM600 1662h2v1h-2zM606 1662h1v1h-1zM558 1663h1v1h-1zM593 1663h1v1h-1zM560 1664h3v1h-3zM564 1664h2v1h-2zM583 1664h4v1h-4zM577 1665h3v1h-3z"/>
<path fill="#5a5a5a" d="M574 1644h3v1h-3zM580 1644h5v1h-5zM590 1644h2v1h-2zM593 1644h3v1h-3zM600 1644h2v1h-2zM607 1644h1v1h-1zM564 1645h3v1h-3zM608 1645h1v1h-1zM610 1645h4v1h-4zM562 1646h1v1h-1zM614 1646h10v1h-10zM557 1647h4v1h-4zM624 1647h1v2h-1zM555 1648h1v1h-1zM553 1649h1v1h-1zM625 1649h1v1h-1zM551 1650h1v1h-1zM626 1650h3v1h-3zM628 1651h2v1h-2zM628 1652h4v3h-4zM548 1653h1v1h-1zM627 1655h4v1h-4zM626 1656h5v1h-5zM625 1657h1v1h-1zM627 1657h3v1h-3zM548 1658h1v1h-1zM620 1658h5v1h-5zM549 1659h1v1h-1zM615 1659h4v1h-4zM550 1660h1v1h-1zM611 1660h2v1h-2zM551 1661h1v1h-1zM597 1661h3v1h-3zM606 1661h4v1h-4zM556 1662h2v1h-2zM594 1662h1v1h-1zM602 1662h4v1h-4zM559 1663h1v1h-1zM592 1663h1v1h-1zM566 1664h3v1h-3zM582 1664h1v1h-1z"/>
<path fill="#525252" d="M577 1644h3v1h-3zM585 1644h5v1h-5zM596 1644h4v1h-4zM602 1644h5v1h-5zM567 1645h1v1h-1zM607 1645h1v1h-1zM563 1646h1v1h-1zM608 1646h6v1h-6zM561 1647h1v1h-1zM614 1647h10v1h-10zM556 1648h1v1h-1zM623 1648h1v1h-1zM554 1649h1v1h-1zM624 1649h1v1h-1zM552 1650h1v1h-1zM625 1650h1v1h-1zM626 1651h2v4h-2zM549 1652h1v1h-1zM548 1654h1v4h-1zM626 1655h1v1h-1zM625 1656h1v1h-1zM624 1657h1v1h-1zM549 1658h1v1h-1zM619 1658h1v1h-1zM613 1659h2v1h-2zM606 1660h5v1h-5zM552 1661h1v1h-1zM595 1661h2v1h-2zM600 1661h2v1h-2zM605 1661h1v1h-1zM558 1662h1v1h-1zM593 1662h1v1h-1zM560 1663h4v1h-4zM586 1663h6v1h-6zM569 1664h7v1h-7zM581 1664h1v1h-1z"/>
<path fill="#4b4b4b" d="M568 1645h7v1h-7zM580 1645h6v1h-6zM591 1645h16v1h-16zM564 1646h2v1h-2zM607 1646h1v1h-1zM562 1647h1v1h-1zM613 1647h1v1h-1zM557 1648h1v1h-1zM614 1648h2v1h-2zM621 1648h2v1h-2zM555 1649h2v1h-2zM622 1649h2v1h-2zM553 1650h1v1h-1zM623 1650h2v1h-2zM551 1651h1v1h-1zM624 1651h2v1h-2zM550 1652h1v1h-1zM625 1652h1v4h-1zM549 1653h1v5h-1zM624 1656h1v1h-1zM616 1657h8v1h-8zM550 1658h1v2h-1zM615 1658h4v1h-4zM607 1659h6v1h-6zM551 1660h1v1h-1zM597 1660h4v1h-4zM605 1660h1v1h-1zM553 1661h4v1h-4zM594 1661h1v1h-1zM602 1661h3v1h-3zM559 1662h1v1h-1zM592 1662h1v1h-1zM564 1663h2v1h-2zM582 1663h4v1h-4zM576 1664h5v1h-5z"/>
<path fill="#444444" d="M575 1645h5v1h-5zM586 1645h5v1h-5zM566 1646h2v1h-2zM599 1646h2v1h-2zM605 1646h2v1h-2zM563 1647h1v1h-1zM607 1647h6v1h-6zM558 1648h5v1h-5zM613 1648h1v1h-1zM616 1648h5v1h-5zM557 1649h1v1h-1zM621 1649h1v1h-1zM554 1650h2v1h-2zM621 1650h2v1h-2zM552 1651h1v1h-1zM623 1651h1v1h-1zM551 1652h1v1h-1zM623 1652h2v4h-2zM550 1653h2v1h-2zM550 1654h1v4h-1zM616 1656h8v1h-8zM615 1657h1v1h-1zM610 1658h5v1h-5zM551 1659h1v1h-1zM605 1659h2v1h-2zM552 1660h2v1h-2zM595 1660h2v1h-2zM601 1660h4v1h-4zM557 1661h2v1h-2zM593 1661h1v1h-1zM560 1662h3v1h-3zM587 1662h5v1h-5zM566 1663h3v1h-3zM581 1663h1v1h-1z"/>
<path fill="#3d3d3d" d="M568 1646h2v1h-2zM573 1646h2v1h-2zM579 1646h20v1h-20zM601 1646h4v1h-4zM564 1647h2v1h-2zM605 1647h2v1h-2zM563 1648h1v1h-1zM607 1648h6v1h-6zM558 1649h1v1h-1zM613 1649h8v1h-8zM556 1650h1v1h-1zM620 1650h1v1h-1zM553 1651h2v1h-2zM620 1651h3v3h-3zM552 1652h2v1h-2zM552 1653h1v1h-1zM551 1654h2v1h-2zM617 1654h6v1h-6zM551 1655h1v3h-1zM616 1655h7v1h-7zM615 1656h1v1h-1zM613 1657h2v1h-2zM551 1658h2v1h-2zM606 1658h4v1h-4zM552 1659h1v1h-1zM597 1659h8v1h-8zM554 1660h3v1h-3zM594 1660h1v1h-1zM559 1661h2v1h-2zM591 1661h2v1h-2zM563 1662h3v1h-3zM582 1662h5v1h-5zM569 1663h12v1h-12z"/>
<path fill="#353535" d="M570 1646h3v1h-3zM575 1646h4v1h-4zM566 1647h2v1h-2zM590 1647h15v1h-15zM564 1648h1v1h-1zM600 1648h1v1h-1zM605 1648h2v1h-2zM559 1649h4v1h-4zM607 1649h6v1h-6zM557 1650h1v1h-1zM613 1650h7v1h-7zM555 1651h2v1h-2zM614 1651h6v1h-6zM554 1652h2v1h-2zM615 1652h5v2h-5zM553 1653h3v2h-3zM615 1654h2v1h-2zM552 1655h3v3h-3zM614 1655h2v1h-2zM612 1656h3v1h-3zM605 1657h8v1h-8zM553 1658h2v1h-2zM598 1658h2v1h-2zM604 1658h2v1h-2zM553 1659h4v1h-4zM595 1659h2v1h-2zM557 1660h2v1h-2zM592 1660h2v1h-2zM561 1661h3v1h-3zM588 1661h3v1h-3zM566 1662h3v1h-3zM580 1662h2v1h-2z"/>
<path fill="#2e2e2e" d="M568 1647h22v1h-22zM565 1648h1v1h-1zM590 1648h10v1h-10zM601 1648h4v1h-4zM563 1649h1v1h-1zM596 1649h11v1h-11zM558 1650h5v1h-5zM606 1650h7v1h-7zM557 1651h1v1h-1zM612 1651h2v1h-2zM556 1652h1v3h-1zM612 1652h3v3h-3zM555 1655h2v4h-2zM611 1655h3v1h-3zM608 1656h4v1h-4zM598 1657h2v1h-2zM604 1657h1v1h-1zM596 1658h2v1h-2zM600 1658h4v1h-4zM557 1659h2v1h-2zM592 1659h3v1h-3zM559 1660h4v1h-4zM589 1660h3v1h-3zM564 1661h4v1h-4zM581 1661h7v1h-7zM569 1662h11v1h-11z"/>
<path fill="#272727" d="M566 1648h3v1h-3zM573 1648h2v1h-2zM583 1648h7v1h-7zM564 1649h2v1h-2zM590 1649h6v1h-6zM563 1650h1v1h-1zM595 1650h11v1h-11zM558 1651h3v1h-3zM600 1651h12v4h-12zM557 1652h2v1h-2zM557 1653h1v4h-1zM599 1655h12v1h-12zM597 1656h11v1h-11zM557 1657h2v1h-2zM596 1657h2v1h-2zM600 1657h4v1h-4zM557 1658h3v1h-3zM592 1658h4v1h-4zM559 1659h4v1h-4zM590 1659h2v1h-2zM563 1660h4v1h-4zM587 1660h2v1h-2zM568 1661h6v1h-6zM579 1661h2v1h-2z"/>
<path fill="#202020" d="M569 1648h4v1h-4zM575 1648h8v1h-8zM566 1649h2v1h-2zM584 1649h6v1h-6zM564 1650h2v1h-2zM588 1650h7v1h-7zM561 1651h3v1h-3zM594 1651h6v1h-6zM559 1652h3v1h-3zM595 1652h5v3h-5zM558 1653h4v4h-4zM595 1655h4v1h-4zM593 1656h4v1h-4zM559 1657h4v1h-4zM591 1657h5v1h-5zM560 1658h4v1h-4zM589 1658h3v1h-3zM563 1659h3v1h-3zM588 1659h2v1h-2zM567 1660h6v1h-6zM579 1660h8v1h-8zM574 1661h5v1h-5z"/>
<path fill="#181818" d="M568 1649h16v1h-16zM566 1650h3v1h-3zM584 1650h4v1h-4zM564 1651h3v1h-3zM586 1651h8v1h-8zM562 1652h3v1h-3zM587 1652h8v1h-8zM562 1653h2v4h-2zM592 1653h3v3h-3zM589 1656h4v1h-4zM563 1657h2v1h-2zM588 1657h3v1h-3zM564 1658h5v1h-5zM585 1658h4v1h-4zM566 1659h8v1h-8zM579 1659h9v1h-9zM573 1660h6v1h-6z"/>
<path fill="#111111" d="M569 1650h15v1h-15zM567 1651h3v1h-3zM578 1651h8v1h-8zM565 1652h5v1h-5zM584 1652h3v1h-3zM564 1653h6v4h-6zM585 1653h7v3h-7zM585 1656h4v1h-4zM565 1657h9v1h-9zM580 1657h8v1h-8zM569 1658h16v1h-16zM574 1659h5v1h-5z"/>
<path fill="#0a0a0a" d="M570 1651h8v1h-8zM570 1652h14v1h-14zM570 1653h15v4h-15zM574 1657h6v1h-6z"/>
<path fill="#0c5cc0" d="M889 1211h3v6h-3zM871 1215h3v3h-3zM894 1217h3v3h-3zM883 1218h3v3h-3zM885 1225h3v3h-3zM890 1227h3v1h-3zM905 1227h3v3h-3zM823 1228h3v3h-3zM890 1228h5v2h-5zM899 1229h3v2h-3zM884 1230h3v3h-3zM892 1230h3v1h-3zM895 1231h7v1h-7zM870 1232h3v3h-3zM895 1232h6v2h-6zM878 1233h3v3h-3zM859 1236h3v3h-3zM908 1236h3v3h-3zM887 1237h3v3h-3zM894 1238h3v4h-3zM862 1239h3v2h-3zM861 1241h4v1h-4zM876 1241h3v4h-3zM843 1242h3v3h-3zM861 1242h3v2h-3zM908 1242h3v3h-3zM858 1244h6v3h-6zM891 1244h3v3h-3zM901 1244h3v3h-3zM884 1246h3v2h-3zM862 1247h3v3h-3zM884 1248h1v1h-1zM882 1249h3v3h-3zM829 1250h3v2h-3zM851 1250h3v3h-3zM859 1250h3v3h-3zM909 1250h3v6h-3zM828 1252h4v1h-4zM833 1252h3v3h-3zM828 1253h3v2h-3zM858 1253h3v2h-3zM892 1253h5v3h-5zM837 1254h3v3h-3zM888 1254h3v1h-3zM822 1255h3v2h-3zM866 1255h3v4h-3zM882 1255h3v3h-3zM886 1255h5v2h-5zM822 1257h5v1h-5zM886 1257h3v1h-3zM917 1257h3v3h-3zM824 1258h5v2h-5zM855 1258h3v2h-3zM945 1259h3v3h-3zM793 1260h3v3h-3zM826 1260h3v1h-3zM838 1260h3v3h-3zM855 1260h4v1h-4zM846 1261h3v3h-3zM856 1261h3v2h-3zM887 1262h3v3h-3zM835 1263h3v3h-3zM908 1263h3v3h-3zM859 1264h3v4h-3zM872 1264h6v3h-6zM814 1265h3v3h-3zM855 1267h3v2h-3zM891 1267h3v3h-3zM802 1268h3v3h-3zM824 1268h3v2h-3zM851 1268h3v1h-3zM887 1268h3v3h-3zM840 1269h3v3h-3zM851 1269h7v1h-7zM864 1269h3v1h-3zM825 1270h2v1h-2zM831 1270h3v3h-3zM851 1270h4v1h-4zM856 1270h3v3h-3zM864 1270h5v3h-5zM874 1270h3v3h-3zM880 1270h3v3h-3zM852 1271h3v1h-3zM841 1272h3v3h-3zM819 1273h3v3h-3zM835 1273h3v3h-3zM826 1274h3v3h-3zM854 1274h3v3h-3zM889 1274h3v3h-3zM848 1275h3v3h-3zM836 1276h2v2h-2zM813 1277h3v2h-3zM827 1277h3v2h-3zM841 1277h1v1h-1zM858 1277h3v3h-3zM881 1277h3v3h-3zM820 1278h3v1h-3zM839 1278h3v2h-3zM852 1278h3v1h-3zM785 1279h3v3h-3zM812 1279h4v1h-4zM817 1279h6v2h-6zM827 1279h6v1h-6zM850 1279h5v2h-5zM864 1279h3v3h-3zM898 1279h3v3h-3zM799 1280h3v3h-3zM812 1280h3v2h-3zM830 1280h6v2h-6zM850 1281h3v1h-3zM806 1282h3v3h-3zM833 1282h3v1h-3zM815 1283h2v1h-2zM858 1283h3v3h-3zM770 1284h3v3h-3zM793 1284h3v1h-3zM815 1284h3v1h-3zM846 1284h3v3h-3zM866 1284h3v3h-3zM882 1284h3v1h-3zM790 1285h6v2h-6zM815 1285h5v1h-5zM832 1285h3v3h-3zM879 1285h6v2h-6zM817 1286h3v2h-3zM862 1286h3v2h-3zM783 1287h3v3h-3zM790 1287h3v1h-3zM800 1287h3v3h-3zM879 1287h3v1h-3zM792 1288h3v3h-3zM824 1288h3v3h-3zM869 1288h3v3h-3zM772 1289h3v3h-3zM837 1289h3v2h-3zM777 1290h3v3h-3zM845 1290h3v3h-3zM851 1290h3v3h-3zM828 1291h3v3h-3zM837 1291h5v1h-5zM809 1292h3v3h-3zM839 1292h3v1h-3zM860 1292h3v3h-3zM780 1293h3v1h-3zM839 1293h5v1h-5zM865 1293h3v3h-3zM780 1294h1v2h-1zM786 1294h3v2h-3zM841 1294h5v2h-5zM815 1295h2v3h-2zM822 1295h3v6h-3zM788 1296h1v1h-1zM829 1296h3v3h-3zM843 1296h3v1h-3zM808 1297h2v1h-2zM748 1298h3v3h-3zM773 1298h2v3h-2zM808 1298h3v1h-3zM752 1299h3v3h-3zM760 1299h3v3h-3zM808 1299h5v1h-5zM810 1300h3v2h-3zM756 1301h3v3h-3zM767 1301h3v3h-3zM800 1301h3v3h-3zM837 1301h3v1h-3zM841 1301h3v1h-3zM824 1302h3v3h-3zM832 1302h3v3h-3zM837 1302h7v2h-7zM759 1304h3v3h-3zM802 1304h3v3h-3zM814 1304h3v1h-3zM838 1304h3v1h-3zM813 1305h4v2h-4zM822 1305h3v3h-3zM834 1305h3v3h-3zM843 1305h3v3h-3zM827 1306h3v3h-3zM813 1307h3v1h-3zM817 1307h3v3h-3zM806 1308h3v3h-3zM823 1309h3v3h-3zM840 1309h3v3h-3zM757 1310h1v3h-1zM810 1310h3v2h-3zM818 1310h3v6h-3zM835 1311h3v3h-3zM814 1312h3v3h-3zM735 1314h3v3h-3zM744 1314h3v3h-3zM844 1318h3v3h-3zM869 1318h3v3h-3zM748 1319h1v2h-1zM826 1319h3v3h-3zM748 1321h3v1h-3zM799 1323h3v3h-3zM744 1324h3v3h-3zM795 1324h3v3h-3zM805 1325h3v1h-3zM802 1326h6v2h-6zM821 1326h3v3h-3zM802 1328h3v3h-3zM795 1329h3v2h-3zM794 1331h4v1h-4zM808 1331h3v3h-3zM732 1332h3v1h-3zM776 1332h3v2h-3zM794 1332h3v2h-3zM732 1333h5v2h-5zM776 1334h1v1h-1zM812 1334h3v3h-3zM734 1335h3v1h-3zM743 1335h3v3h-3zM787 1335h3v1h-3zM787 1336h6v2h-6zM797 1336h3v3h-3zM746 1339h3v3h-3zM775 1339h3v3h-3zM785 1339h3v3h-3zM732 1341h3v3h-3zM736 1341h3v3h-3zM742 1341h3v3h-3zM795 1342h2v3h-2zM748 1343h3v3h-3zM774 1346h3v2h-3zM746 1347h3v5h-3zM738 1348h3v1h-3zM775 1348h2v1h-2zM738 1349h4v2h-4zM752 1349h3v3h-3zM703 1350h3v3h-3zM776 1350h3v3h-3zM713 1351h3v3h-3zM739 1351h3v1h-3zM757 1352h3v3h-3zM726 1353h3v3h-3zM786 1353h3v3h-3zM695 1355h3v3h-3zM762 1355h3v2h-3zM726 1357h3v4h-3zM763 1357h2v1h-2zM784 1357h3v3h-3zM743 1358h3v1h-3zM771 1358h3v3h-3zM792 1358h3v3h-3zM734 1359h3v1h-3zM743 1359h5v1h-5zM711 1360h3v3h-3zM742 1360h6v2h-6zM763 1361h3v2h-3zM768 1361h8v3h-8zM851 1361h3v3h-3zM742 1362h3v3h-3zM703 1363h3v3h-3zM714 1363h3v3h-3zM718 1363h3v3h-3zM758 1363h3v2h-3zM762 1363h4v1h-4zM748 1364h3v3h-3zM762 1364h3v2h-3zM740 1365h5v1h-5zM767 1365h3v2h-3zM728 1366h3v3h-3zM740 1366h3v2h-3zM783 1366h3v3h-3zM722 1367h3v3h-3zM765 1367h5v1h-5zM751 1368h3v3h-3zM765 1368h3v2h-3zM773 1368h3v3h-3zM734 1369h3v3h-3zM757 1369h3v2h-3zM696 1370h3v1h-3zM766 1370h3v2h-3zM801 1370h3v3h-3zM696 1371h6v2h-6zM754 1371h6v1h-6zM754 1372h3v1h-3zM765 1372h4v1h-4zM699 1373h3v1h-3zM726 1373h3v3h-3zM753 1373h4v1h-4zM765 1373h3v2h-3zM752 1374h3v2h-3zM759 1374h3v3h-3zM786 1374h3v3h-3zM744 1375h3v3h-3zM691 1376h3v3h-3zM712 1376h3v3h-3zM740 1376h3v3h-3zM753 1376h3v3h-3zM774 1376h3v3h-3zM698 1377h3v3h-3zM724 1377h3v3h-3zM764 1377h3v2h-3zM809 1377h3v3h-3zM731 1378h3v3h-3zM690 1379h3v3h-3zM703 1379h3v3h-3zM757 1379h3v1h-3zM699 1380h3v3h-3zM755 1380h1v3h-1zM759 1380h1v2h-1zM769 1380h3v3h-3zM707 1381h3v6h-3zM727 1381h3v1h-3zM733 1381h3v2h-3zM742 1381h3v3h-3zM724 1382h6v2h-6zM746 1382h3v2h-3zM764 1382h3v2h-3zM733 1383h6v3h-6zM724 1384h3v1h-3zM746 1384h5v1h-5zM763 1384h4v1h-4zM715 1385h3v3h-3zM742 1385h3v1h-3zM748 1385h3v2h-3zM763 1385h3v2h-3zM777 1385h3v3h-3zM733 1386h3v1h-3zM742 1386h4v2h-4zM696 1387h3v3h-3zM709 1387h3v3h-3zM736 1387h3v2h-3zM701 1388h3v3h-3zM743 1388h3v1h-3zM756 1388h2v1h-2zM736 1389h5v1h-5zM750 1389h3v5h-3zM756 1389h3v2h-3zM738 1390h3v2h-3zM700 1391h3v1h-3zM711 1391h3v3h-3zM699 1392h4v2h-4zM760 1392h3v3h-3zM774 1393h3v3h-3zM699 1394h3v1h-3zM707 1394h3v3h-3zM720 1394h3v3h-3zM697 1396h3v3h-3zM706 1397h3v3h-3zM718 1399h3v1h-3zM704 1400h3v3h-3zM718 1400h2v2h-2zM734 1400h3v3h-3zM745 1402h5v3h-5zM739 1403h5v3h-5zM698 1404h3v3h-3zM687 1405h3v1h-3zM687 1406h6v1h-6zM754 1406h3v3h-3zM687 1407h8v1h-8zM740 1407h3v3h-3zM690 1408h5v1h-5zM702 1408h3v1h-3zM692 1409h3v1h-3zM702 1409h1v2h-1zM711 1409h3v2h-3zM753 1410h3v3h-3zM685 1411h3v3h-3zM711 1411h1v1h-1zM740 1411h3v1h-3zM747 1411h3v3h-3zM697 1412h3v5h-3zM741 1412h2v2h-2zM704 1414h3v1h-3zM724 1414h3v3h-3zM743 1414h3v3h-3zM753 1414h3v1h-3zM691 1415h3v3h-3zM708 1415h3v3h-3zM716 1415h3v3h-3zM750 1415h6v2h-6zM685 1416h3v1h-3zM684 1417h4v3h-4zM726 1417h3v3h-3zM750 1417h3v1h-3zM677 1419h3v3h-3zM720 1419h3v3h-3zM732 1419h3v3h-3zM685 1420h3v1h-3zM712 1421h3v3h-3zM675 1422h3v2h-3zM733 1422h3v2h-3zM679 1423h3v1h-3zM689 1423h3v3h-3zM738 1423h3v3h-3zM675 1424h7v1h-7zM731 1424h5v1h-5zM678 1425h4v1h-4zM706 1425h3v2h-3zM731 1425h3v1h-3zM678 1426h3v1h-3zM693 1426h3v3h-3zM729 1426h5v1h-5zM673 1427h3v3h-3zM706 1427h2v1h-2zM729 1427h3v2h-3zM721 1428h3v3h-3zM661 1429h3v3h-3zM701 1430h2v2h-2zM706 1430h2v3h-2zM729 1430h3v3h-3zM670 1432h3v3h-3zM692 1432h3v1h-3zM700 1432h3v3h-3zM663 1433h3v3h-3zM689 1433h6v2h-6zM710 1433h3v3h-3zM735 1434h3v3h-3zM758 1434h3v3h-3zM689 1435h2v1h-2zM653 1436h3v3h-3zM678 1436h3v3h-3zM755 1437h3v3h-3zM663 1438h5v3h-5zM673 1438h3v3h-3zM704 1438h3v3h-3zM722 1438h3v3h-3zM726 1438h3v3h-3zM734 1438h5v1h-5zM734 1439h7v2h-7zM668 1441h3v3h-3zM738 1441h3v1h-3zM720 1442h5v3h-5zM711 1444h3v3h-3zM742 1445h3v3h-3zM737 1446h3v3h-3zM670 1448h3v3h-3zM674 1448h3v3h-3zM713 1448h2v3h-2zM679 1449h3v3h-3zM653 1450h3v3h-3zM683 1450h3v3h-3zM667 1451h3v3h-3zM747 1451h3v3h-3zM660 1452h3v6h-3zM678 1452h3v3h-3zM719 1452h3v2h-3zM644 1453h3v3h-3zM711 1453h3v3h-3zM725 1453h3v3h-3zM671 1454h1v3h-1zM682 1454h3v3h-3zM718 1454h4v1h-4zM718 1455h3v2h-3zM651 1456h3v3h-3zM713 1456h3v3h-3zM709 1457h3v3h-3zM627 1458h3v3h-3zM660 1458h5v1h-5zM666 1458h3v3h-3zM641 1459h3v3h-3zM662 1459h3v2h-3zM698 1459h3v3h-3zM722 1460h3v6h-3zM670 1461h3v1h-3zM704 1461h3v2h-3zM670 1462h5v2h-5zM735 1462h3v3h-3zM648 1463h3v3h-3zM703 1463h4v1h-4zM672 1464h3v1h-3zM703 1464h3v2h-3zM710 1464h3v3h-3zM675 1466h4v3h-4zM692 1466h3v3h-3zM696 1466h3v2h-3zM702 1467h3v4h-3zM688 1468h3v1h-3zM696 1468h4v1h-4zM688 1469h4v2h-4zM697 1469h3v2h-3zM724 1469h3v3h-3zM639 1471h3v3h-3zM689 1471h3v1h-3zM661 1472h3v2h-3zM677 1472h3v2h-3zM687 1472h2v1h-2zM700 1472h3v3h-3zM652 1473h1v3h-1zM686 1473h3v2h-3zM659 1474h5v1h-5zM707 1474h3v1h-3zM659 1475h3v2h-3zM707 1475h6v2h-6zM697 1476h3v2h-3zM710 1477h3v2h-3zM650 1478h2v3h-2zM674 1478h3v3h-3zM684 1478h3v3h-3zM695 1478h5v1h-5zM695 1479h3v1h-3zM657 1480h3v2h-3zM695 1480h4v1h-4zM723 1480h3v3h-3zM696 1481h6v2h-6zM656 1482h4v1h-4zM692 1482h3v3h-3zM634 1483h3v3h-3zM650 1483h3v1h-3zM656 1483h3v1h-3zM686 1483h3v3h-3zM699 1483h3v1h-3zM722 1483h3v3h-3zM650 1484h4v2h-4zM703 1484h3v1h-3zM700 1485h6v2h-6zM651 1486h3v1h-3zM694 1486h3v3h-3zM687 1487h2v2h-2zM700 1487h3v1h-3zM686 1489h3v1h-3zM634 1490h6v3h-6zM650 1490h3v3h-3zM656 1491h2v2h-2zM699 1491h3v3h-3zM641 1492h3v3h-3zM622 1493h3v3h-3zM648 1493h3v3h-3zM652 1493h3v3h-3zM656 1493h3v1h-3zM665 1493h3v2h-3zM704 1493h3v4h-3zM694 1494h3v1h-3zM631 1495h3v3h-3zM663 1495h5v1h-5zM691 1495h6v2h-6zM735 1495h3v3h-3zM639 1496h3v3h-3zM655 1496h3v3h-3zM663 1496h3v2h-3zM725 1496h3v3h-3zM688 1497h6v1h-6zM699 1497h8v2h-8zM668 1498h3v3h-3zM688 1498h3v2h-3zM656 1499h3v3h-3zM699 1499h5v1h-5zM648 1500h3v3h-3zM662 1501h3v1h-3zM694 1501h3v1h-3zM661 1502h4v1h-4zM671 1502h3v1h-3zM690 1502h3v3h-3zM694 1502h6v2h-6zM711 1502h3v3h-3zM661 1503h6v2h-6zM704 1503h3v3h-3zM697 1504h3v1h-3zM643 1505h3v3h-3zM664 1505h3v1h-3zM700 1505h3v1h-3zM697 1506h6v2h-6zM634 1507h3v3h-3zM676 1507h2v2h-2zM689 1507h3v3h-3zM668 1508h2v1h-2zM697 1508h3v1h-3zM650 1509h3v3h-3zM668 1509h3v2h-3zM675 1509h3v1h-3zM640 1512h3v3h-3zM646 1512h3v3h-3zM682 1513h3v3h-3zM653 1514h3v3h-3zM631 1515h3v3h-3zM638 1515h3v3h-3zM658 1515h3v6h-3zM687 1517h3v3h-3zM696 1518h3v3h-3zM517 1520h3v3h-3zM703 1520h3v3h-3zM628 1521h3v3h-3zM681 1522h3v1h-3zM699 1522h3v3h-3zM611 1523h3v1h-3zM681 1523h2v2h-2zM686 1523h2v1h-2zM611 1524h4v2h-4zM677 1524h3v2h-3zM686 1524h3v3h-3zM612 1526h3v1h-3zM676 1526h4v1h-4zM637 1527h4v3h-4zM646 1527h3v3h-3zM676 1527h1v2h-1zM651 1530h3v1h-3zM695 1530h3v1h-3zM632 1531h3v3h-3zM651 1531h5v2h-5zM695 1531h5v2h-5zM653 1533h3v1h-3zM684 1533h2v2h-2zM692 1533h3v3h-3zM697 1533h3v1h-3zM634 1534h3v1h-3zM640 1534h3v2h-3zM687 1534h3v3h-3zM630 1535h3v3h-3zM634 1535h4v2h-4zM658 1535h3v3h-3zM683 1535h3v1h-3zM640 1536h4v1h-4zM625 1537h3v3h-3zM635 1537h3v1h-3zM641 1537h3v2h-3zM650 1537h3v1h-3zM648 1538h5v1h-5zM664 1538h3v3h-3zM647 1539h4v1h-4zM647 1540h3v1h-3zM643 1541h3v2h-3zM678 1541h3v3h-3zM663 1542h3v3h-3zM634 1543h3v3h-3zM643 1543h6v1h-6zM646 1544h3v2h-3zM651 1544h2v1h-2zM659 1544h2v1h-2zM681 1544h3v3h-3zM638 1545h3v3h-3zM651 1545h3v2h-3zM658 1545h3v2h-3zM677 1545h3v3h-3zM628 1546h3v3h-3zM667 1547h2v2h-2zM656 1548h3v3h-3zM680 1548h3v4h-3zM632 1549h3v3h-3zM646 1549h3v1h-3zM667 1549h3v1h-3zM685 1549h3v4h-3zM643 1550h9v2h-9zM674 1551h3v3h-3zM643 1552h3v1h-3zM649 1552h3v1h-3z"/>
<path fill="#0066d6" d="M878 1245h3v1h-3zM877 1246h4v1h-4zM876 1247h5v1h-5zM875 1248h5v1h-5zM885 1248h3v4h-3zM873 1249h7v1h-7zM869 1250h9v1h-9zM869 1251h7v2h-7zM869 1253h9v1h-9zM870 1254h4v1h-4zM875 1254h3v2h-3zM858 1255h3v4h-3zM871 1255h3v1h-3zM875 1257h3v1h-3zM873 1258h5v2h-5zM873 1260h3v1h-3zM871 1261h3v3h-3zM820 1266h3v1h-3zM819 1267h4v1h-4zM819 1268h5v2h-5zM821 1270h4v1h-4zM822 1271h3v4h-3zM838 1275h3v3h-3zM817 1281h3v3h-3zM862 1283h4v3h-4zM794 1293h3v2h-3zM781 1294h3v4h-3zM798 1294h4v2h-4zM792 1295h5v1h-5zM810 1295h5v3h-5zM785 1296h3v2h-3zM792 1296h3v2h-3zM797 1296h5v1h-5zM775 1297h3v1h-3zM797 1297h4v2h-4zM775 1298h15v1h-15zM775 1299h6v2h-6zM782 1299h3v2h-3zM787 1299h3v2h-3zM798 1299h3v1h-3zM791 1300h3v1h-3zM775 1301h3v3h-3zM780 1301h3v3h-3zM788 1301h6v1h-6zM786 1302h12v2h-12zM769 1304h3v2h-3zM773 1304h6v3h-6zM784 1304h14v1h-14zM765 1305h3v1h-3zM784 1305h8v1h-8zM796 1305h3v2h-3zM765 1306h7v1h-7zM780 1306h12v1h-12zM765 1307h6v1h-6zM774 1307h10v1h-10zM787 1307h3v1h-3zM793 1307h7v1h-7zM765 1308h8v1h-8zM774 1308h16v2h-16zM791 1308h9v1h-9zM764 1309h9v2h-9zM791 1309h14v1h-14zM758 1310h3v2h-3zM779 1310h11v1h-11zM791 1310h4v1h-4zM798 1310h7v1h-7zM762 1311h5v1h-5zM779 1311h12v1h-12zM792 1311h3v2h-3zM796 1311h9v1h-9zM758 1312h9v1h-9zM772 1312h4v1h-4zM777 1312h14v1h-14zM796 1312h3v2h-3zM802 1312h5v3h-5zM810 1312h3v1h-3zM759 1313h9v1h-9zM772 1313h8v2h-8zM781 1313h10v1h-10zM808 1313h5v2h-5zM759 1314h12v1h-12zM781 1314h14v1h-14zM755 1315h3v2h-3zM765 1315h6v1h-6zM775 1315h5v1h-5zM781 1315h7v1h-7zM789 1315h6v2h-6zM796 1315h3v2h-3zM802 1315h3v1h-3zM806 1315h5v1h-5zM767 1316h7v2h-7zM776 1316h12v1h-12zM801 1316h10v1h-10zM754 1317h4v1h-4zM776 1317h15v1h-15zM796 1317h13v1h-13zM749 1318h3v1h-3zM753 1318h4v1h-4zM760 1318h3v1h-3zM767 1318h10v1h-10zM778 1318h8v1h-8zM788 1318h5v2h-5zM797 1318h9v1h-9zM749 1319h8v2h-8zM758 1319h5v2h-5zM765 1319h3v2h-3zM773 1319h10v2h-10zM797 1319h6v2h-6zM789 1320h4v1h-4zM752 1321h5v1h-5zM758 1321h13v1h-13zM773 1321h11v1h-11zM786 1321h6v3h-6zM800 1321h3v1h-3zM753 1322h13v1h-13zM767 1322h4v1h-4zM775 1322h5v1h-5zM781 1322h3v1h-3zM754 1323h6v1h-6zM762 1323h9v1h-9zM772 1323h6v1h-6zM779 1323h5v1h-5zM751 1324h3v1h-3zM756 1324h4v1h-4zM764 1324h3v1h-3zM772 1324h12v1h-12zM785 1324h7v1h-7zM751 1325h9v1h-9zM762 1325h5v1h-5zM768 1325h14v1h-14zM783 1325h9v1h-9zM748 1326h10v1h-10zM762 1326h3v3h-3zM768 1326h6v4h-6zM775 1326h5v4h-5zM782 1326h10v2h-10zM747 1327h6v3h-6zM754 1327h4v1h-4zM755 1328h4v1h-4zM782 1328h6v1h-6zM756 1329h3v1h-3zM762 1329h4v1h-4zM785 1329h9v1h-9zM748 1330h3v1h-3zM752 1330h22v1h-22zM787 1330h7v2h-7zM748 1331h14v2h-14zM763 1331h10v2h-10zM790 1332h3v3h-3zM747 1333h11v2h-11zM760 1333h3v2h-3zM764 1333h5v2h-5zM772 1333h3v4h-3zM781 1333h4v2h-4zM777 1334h3v2h-3zM747 1335h22v1h-22zM781 1335h5v1h-5zM758 1336h4v2h-4zM763 1336h6v1h-6zM777 1336h5v1h-5zM783 1336h3v1h-3zM749 1337h3v5h-3zM763 1337h5v1h-5zM770 1337h5v2h-5zM779 1337h7v1h-7zM759 1338h5v1h-5zM765 1338h3v1h-3zM779 1338h5v1h-5zM790 1338h3v3h-3zM761 1339h3v1h-3zM767 1339h8v1h-8zM780 1339h4v1h-4zM754 1340h3v2h-3zM760 1340h4v1h-4zM767 1340h5v2h-5zM782 1340h3v3h-3zM760 1341h5v1h-5zM752 1342h6v1h-6zM760 1342h8v1h-8zM769 1342h3v1h-3zM773 1342h3v2h-3zM789 1342h6v3h-6zM752 1343h9v2h-9zM762 1343h6v1h-6zM781 1343h3v1h-3zM765 1344h3v1h-3zM770 1344h6v1h-6zM779 1344h7v1h-7zM755 1345h18v1h-18zM778 1345h8v3h-8zM754 1346h19v1h-19zM754 1347h16v1h-16zM754 1348h8v1h-8zM772 1348h3v3h-3zM781 1348h3v1h-3zM756 1349h6v1h-6zM765 1349h4v1h-4zM759 1350h10v2h-10zM770 1351h3v3h-3zM736 1352h3v1h-3zM746 1352h3v1h-3zM762 1352h3v1h-3zM735 1353h4v3h-4zM746 1353h4v1h-4zM751 1353h3v1h-3zM746 1354h9v1h-9zM747 1355h8v1h-8zM734 1356h5v2h-5zM750 1356h5v1h-5zM752 1357h3v1h-3zM758 1357h5v3h-5zM734 1358h3v1h-3zM750 1358h5v3h-5zM758 1360h3v3h-3zM750 1361h3v1h-3zM743 1368h5v1h-5zM731 1369h3v1h-3zM742 1369h9v2h-9zM730 1370h4v1h-4zM729 1371h5v1h-5zM742 1371h3v1h-3zM746 1371h7v1h-7zM729 1372h4v1h-4zM743 1372h10v2h-10zM729 1373h3v1h-3zM736 1374h3v1h-3zM743 1374h3v1h-3zM729 1375h3v1h-3zM735 1375h5v3h-5zM728 1376h4v2h-4zM728 1378h3v1h-3zM764 1379h5v3h-5zM756 1380h3v3h-3zM758 1386h4v3h-4zM747 1388h3v2h-3zM734 1390h3v2h-3zM746 1390h4v1h-4zM746 1391h3v1h-3zM729 1392h8v1h-8zM745 1392h4v1h-4zM729 1393h7v1h-7zM745 1393h3v2h-3zM727 1394h11v1h-11zM740 1394h3v1h-3zM725 1395h5v2h-5zM731 1395h7v2h-7zM740 1395h4v2h-4zM746 1395h3v2h-3zM725 1397h4v2h-4zM733 1397h3v1h-3zM741 1397h8v1h-8zM740 1398h8v1h-8zM726 1399h3v1h-3zM740 1399h3v2h-3zM744 1399h4v1h-4zM720 1400h3v2h-3zM730 1400h3v3h-3zM714 1401h3v1h-3zM713 1402h4v2h-4zM720 1402h7v1h-7zM718 1403h9v1h-9zM730 1403h5v2h-5zM713 1404h3v1h-3zM718 1404h11v1h-11zM713 1405h4v3h-4zM718 1405h5v1h-5zM726 1405h5v2h-5zM732 1405h3v1h-3zM722 1406h3v1h-3zM734 1406h3v2h-3zM721 1407h4v1h-4zM728 1407h3v1h-3zM721 1408h5v2h-5zM734 1408h4v1h-4zM703 1409h3v2h-3zM717 1409h3v1h-3zM729 1409h3v1h-3zM735 1409h3v2h-3zM714 1410h12v1h-12zM729 1410h4v1h-4zM703 1411h4v1h-4zM712 1411h26v1h-26zM704 1412h3v2h-3zM712 1412h6v2h-6zM720 1412h9v1h-9zM730 1412h6v1h-6zM738 1412h3v1h-3zM721 1413h8v1h-8zM733 1413h8v1h-8zM721 1414h3v1h-3zM736 1414h5v1h-5zM736 1415h3v1h-3zM697 1417h3v2h-3zM695 1419h5v1h-5zM695 1420h3v1h-3zM703 1420h3v1h-3zM695 1421h6v1h-6zM703 1421h6v3h-6zM715 1421h3v5h-3zM697 1422h5v2h-5zM698 1424h4v1h-4zM713 1426h5v1h-5zM708 1427h3v1h-3zM712 1427h5v1h-5zM708 1428h9v1h-9zM708 1429h8v1h-8zM703 1430h3v3h-3zM711 1430h5v1h-5zM711 1431h3v1h-3zM717 1431h4v2h-4zM722 1431h4v2h-4zM717 1433h9v1h-9zM721 1434h3v2h-3zM681 1435h4v1h-4zM691 1435h3v2h-3zM681 1436h9v1h-9zM718 1436h3v1h-3zM681 1437h13v1h-13zM696 1437h3v1h-3zM709 1437h3v1h-3zM717 1437h4v3h-4zM685 1438h7v1h-7zM694 1438h6v3h-6zM707 1438h8v2h-8zM682 1439h3v2h-3zM689 1439h3v1h-3zM676 1440h3v4h-3zM707 1440h3v1h-3zM711 1440h4v1h-4zM718 1440h3v1h-3zM682 1441h8v1h-8zM694 1441h3v1h-3zM706 1441h3v1h-3zM681 1442h9v2h-9zM691 1442h5v3h-5zM697 1442h3v3h-3zM705 1442h4v1h-4zM705 1443h5v2h-5zM676 1444h14v1h-14zM675 1445h15v2h-15zM694 1445h4v1h-4zM707 1445h3v1h-3zM693 1446h5v2h-5zM675 1447h12v1h-12zM699 1447h3v1h-3zM684 1448h3v2h-3zM693 1448h3v1h-3zM697 1448h5v1h-5zM709 1448h4v3h-4zM697 1449h9v1h-9zM690 1450h3v1h-3zM697 1450h3v1h-3zM701 1450h5v1h-5zM687 1451h6v2h-6zM701 1451h9v3h-9zM687 1453h3v1h-3zM693 1453h3v1h-3zM672 1454h6v3h-6zM687 1454h13v1h-13zM701 1454h7v1h-7zM685 1455h15v2h-15zM701 1455h4v2h-4zM675 1457h3v1h-3zM682 1457h6v1h-6zM692 1457h3v1h-3zM697 1457h3v2h-3zM701 1457h3v2h-3zM675 1458h4v1h-4zM682 1458h3v1h-3zM673 1459h6v1h-6zM682 1459h4v1h-4zM673 1460h8v1h-8zM683 1460h3v5h-3zM689 1460h3v1h-3zM695 1460h3v1h-3zM673 1461h3v1h-3zM678 1461h3v5h-3zM689 1461h9v2h-9zM688 1463h7v2h-7zM665 1465h3v4h-3zM688 1465h6v1h-6zM683 1468h3v2h-3zM664 1469h4v1h-4zM664 1470h3v2h-3zM682 1470h5v3h-5zM669 1471h4v3h-4zM653 1473h3v1h-3zM682 1473h3v2h-3zM653 1474h5v2h-5zM665 1474h8v1h-8zM677 1474h3v1h-3zM665 1475h9v2h-9zM676 1475h4v2h-4zM655 1476h3v1h-3zM653 1477h3v1h-3zM664 1477h3v2h-3zM668 1477h6v1h-6zM676 1477h3v1h-3zM652 1478h4v1h-4zM668 1478h3v2h-3zM652 1479h5v2h-5zM663 1479h4v3h-4zM670 1480h3v1h-3zM654 1481h3v1h-3zM670 1481h4v1h-4zM663 1482h11v1h-11zM663 1483h7v2h-7zM671 1483h3v1h-3zM676 1483h3v3h-3zM680 1484h3v2h-3zM662 1486h8v3h-8zM676 1486h11v2h-11zM677 1488h10v1h-10zM664 1489h6v1h-6zM677 1489h5v2h-5zM658 1490h5v1h-5zM665 1490h6v1h-6zM658 1491h6v2h-6zM666 1491h5v1h-5zM672 1491h12v3h-12zM668 1492h3v1h-3zM661 1493h3v1h-3zM673 1494h7v1h-7zM673 1495h4v1h-4zM674 1496h3v4h-3zM678 1497h3v4h-3zM684 1497h3v1h-3zM682 1498h6v3h-6zM678 1501h4v1h-4zM685 1501h3v2h-3zM655 1502h3v2h-3zM676 1502h6v1h-6zM671 1503h3v3h-3zM676 1503h8v2h-8zM654 1504h4v1h-4zM652 1505h5v2h-5zM678 1505h8v2h-8zM670 1506h6v3h-6zM652 1507h6v1h-6zM683 1507h6v3h-6zM655 1508h3v1h-3zM654 1509h4v3h-4zM662 1509h3v2h-3zM671 1509h3v5h-3zM684 1510h3v1h-3zM662 1511h4v1h-4zM663 1512h3v2h-3zM679 1513h3v2h-3zM643 1514h3v1h-3zM642 1515h4v1h-4zM648 1515h3v1h-3zM661 1515h5v3h-5zM670 1515h4v1h-4zM678 1515h4v1h-4zM642 1516h9v1h-9zM668 1516h8v3h-8zM678 1516h5v3h-5zM641 1517h10v1h-10zM641 1518h8v1h-8zM661 1518h3v3h-3zM641 1519h3v1h-3zM666 1519h3v1h-3zM671 1519h6v1h-6zM654 1520h3v1h-3zM666 1520h5v2h-5zM674 1520h5v1h-5zM651 1521h6v1h-6zM673 1521h6v2h-6zM638 1522h3v1h-3zM644 1522h6v1h-6zM651 1522h7v3h-7zM665 1522h6v1h-6zM637 1523h13v2h-13zM660 1523h3v1h-3zM665 1523h3v1h-3zM669 1523h3v2h-3zM673 1523h3v1h-3zM683 1523h3v3h-3zM660 1524h8v1h-8zM637 1525h9v1h-9zM653 1525h3v1h-3zM660 1525h12v1h-12zM661 1526h8v1h-8zM673 1526h3v3h-3zM643 1527h3v5h-3zM659 1527h13v1h-13zM659 1528h7v1h-7zM669 1528h3v1h-3zM659 1529h3v1h-3zM663 1529h3v1h-3zM667 1529h5v1h-5zM679 1529h5v4h-5zM659 1530h13v1h-13zM658 1531h14v1h-14zM643 1532h5v1h-5zM658 1532h9v1h-9zM668 1532h4v3h-4zM645 1533h3v6h-3zM658 1533h3v1h-3zM664 1533h3v3h-3zM681 1533h3v2h-3zM668 1535h3v1h-3zM654 1537h3v2h-3zM651 1539h6v1h-6zM651 1540h3v2h-3zM655 1540h4v2h-4zM667 1540h3v3h-3zM653 1542h6v3h-6zM667 1543h6v2h-6zM655 1545h3v1h-3zM669 1545h4v4h-4z"/></g>
<path d="M230.5 1736V1745.8M230.5 1089.5V1094.5M432.5 1736V1745.8M432.5 1089.5V1094.5M634.5 1736V1745.8M634.5 1089.5V1094.5M836.5 1736V1745.8M836.5 1089.5V1094.5M1038.5 1736V1745.8M1038.5 1089.5V1094.5M1239.5 1736V1745.8M1239.5 1089.5V1094.5M1441.5 1736V1745.8M1441.5 1089.5V1094.5M1643.5 1736V1745.8M1643.5 1089.5V1094.5M1845.5 1736V1745.8M1845.5 1089.5V1094.5M225 1740.5H235M1840.5 1740.5H1845.5M225 1647.5H235M1840.5 1647.5H1845.5M225 1554.5H235M1840.5 1554.5H1845.5M225 1461.5H235M1840.5 1461.5H1845.5M225 1368.5H235M1840.5 1368.5H1845.5M225 1275.5H235M1840.5 1275.5H1845.5M225 1182.5H235M1840.5 1182.5H1845.5M225 1089.5H235M1840.5 1089.5H1845.5" stroke="#000" stroke-width="1.05" fill="none"/>
<path d="M1038.5 1089.5V1740.5 M230.5 1554.5H1845.5" stroke="#fa00f2" stroke-width="3" fill="none"/>
<rect x="230.5" y="1089.5" width="1615" height="651" fill="none" stroke="#000" stroke-width="1.2"/>
<g font-family="'Liberation Sans', Arial, sans-serif" font-size="15.5" fill="#000" stroke="#000" stroke-width="0.85" stroke-linejoin="round">
<text x="229.5" y="1766.8" text-anchor="middle">0</text>
<text x="431.4" y="1766.8" text-anchor="middle">1000</text>
<text x="633.2" y="1766.8" text-anchor="middle">2000</text>
<text x="835.1" y="1766.8" text-anchor="middle">3000</text>
<text x="1037" y="1766.8" text-anchor="middle">4000</text>
<text x="1238.9" y="1766.8" text-anchor="middle">5000</text>
<text x="1440.8" y="1766.8" text-anchor="middle">6000</text>
<text x="1642.6" y="1766.8" text-anchor="middle">7000</text>
<text x="1844.5" y="1766.8" text-anchor="middle">8000</text>
<text x="198" y="1744.5" text-anchor="middle">0</text>
<text x="216.6" y="1651.1" text-anchor="end">1000</text>
<text x="216.6" y="1558.1" text-anchor="end">2000</text>
<text x="216.6" y="1465.1" text-anchor="end">3000</text>
<text x="216.6" y="1372.1" text-anchor="end">4000</text>
<text x="216.6" y="1279.1" text-anchor="end">5000</text>
<text x="216.6" y="1186.1" text-anchor="end">6000</text>
<text x="216.6" y="1093.1" text-anchor="end">7000</text>
</g>
<text x="1037.5" y="1788.7" text-anchor="middle" font-family="'Liberation Sans', Arial, sans-serif" font-size="16" stroke="#000" stroke-width="0.95" stroke-linejoin="round" letter-spacing="0.1">Channel 2 Amplitude</text>
<text transform="translate(168.3 1414.5) rotate(-90)" text-anchor="middle" font-family="'Liberation Sans', Arial, sans-serif" font-size="16" stroke="#000" stroke-width="0.95" stroke-linejoin="round" letter-spacing="0.1">Channel 1 Amplitude</text>
<g font-family="'Liberation Sans', Arial, sans-serif" font-size="16" fill="#000" stroke="#000" stroke-width="0.95" stroke-linejoin="round">
<text x="775.4" y="1073.8" letter-spacing="0.94">Ch1+Ch2+:0</text>
<text x="884.1" y="1073.8" letter-spacing="0.95">Ch1+Ch2-:1295</text>
<text x="1019.4" y="1073.8" letter-spacing="-0.03">Ch1-Ch2+:0</text>
<text x="1115.9" y="1073.8" letter-spacing="0.03">Ch1-Ch2-:11403</text>
</g>
<text x="1041.2" y="1102.1" font-family="'Liberation Sans', Arial, sans-serif" font-size="12" letter-spacing="0.25" stroke="#000" stroke-width="0.2">4002</text>
<text x="1842.7" y="1552.3" text-anchor="end" font-family="'Liberation Sans', Arial, sans-serif" font-size="12" letter-spacing="0.25" stroke="#000" stroke-width="0.2">2001</text>
</svg></body></html>
